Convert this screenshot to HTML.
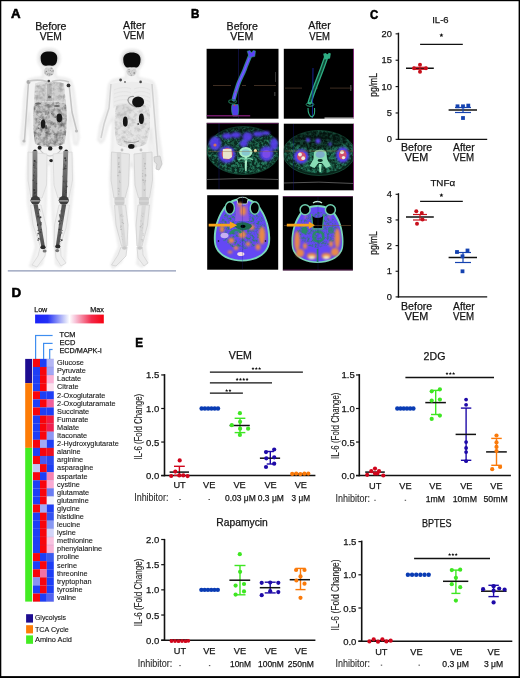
<!DOCTYPE html>
<html><head><meta charset="utf-8"><style>
html,body{margin:0;padding:0;background:#fff;}
body{width:520px;height:678px;overflow:hidden;}
svg{display:block;font-family:"Liberation Sans", sans-serif;will-change:transform;}
text{stroke:#1a1a1a;stroke-width:0.25px;}
</style></head><body>
<svg width="520" height="678" viewBox="0 0 520 678">
<rect width="520" height="678" fill="#fff"/>
<text x="11.1" y="18.2" font-size="13.4" font-weight="bold" textLength="9.6" lengthAdjust="spacingAndGlyphs" fill="#000" style="stroke:#000;stroke-width:0.55px">A</text>
<text x="190.9" y="18.0" font-size="13.4" font-weight="bold" textLength="8.4" lengthAdjust="spacingAndGlyphs" fill="#000" style="stroke:#000;stroke-width:0.55px">B</text>
<text x="369.9" y="18.6" font-size="13.4" font-weight="bold" textLength="8.2" lengthAdjust="spacingAndGlyphs" fill="#000" style="stroke:#000;stroke-width:0.55px">C</text>
<text x="11.5" y="296.7" font-size="13.4" font-weight="bold" fill="#000" style="stroke:#000;stroke-width:0.55px">D</text>
<text x="135.3" y="347.4" font-size="13.0" font-weight="bold" textLength="7.8" lengthAdjust="spacingAndGlyphs" fill="#000" style="stroke:#000;stroke-width:0.55px">E</text>
<text x="50.9" y="29.5" font-size="10.6" text-anchor="middle" fill="#111">Before</text>
<text x="50.8" y="39.5" font-size="10.6" text-anchor="middle" textLength="22.3" lengthAdjust="spacingAndGlyphs" fill="#111">VEM</text>
<text x="134.3" y="29.2" font-size="10.6" text-anchor="middle" fill="#111">After</text>
<text x="133.9" y="39.2" font-size="10.6" text-anchor="middle" textLength="21" lengthAdjust="spacingAndGlyphs" fill="#111">VEM</text>
<text x="242.2" y="29.6" font-size="10.6" text-anchor="middle" fill="#111">Before</text>
<text x="241.8" y="39.7" font-size="10.6" text-anchor="middle" textLength="23" lengthAdjust="spacingAndGlyphs" fill="#111">VEM</text>
<text x="319.5" y="29.4" font-size="10.6" text-anchor="middle" fill="#111">After</text>
<text x="319.6" y="39.5" font-size="10.6" text-anchor="middle" textLength="20.6" lengthAdjust="spacingAndGlyphs" fill="#111">VEM</text>
<defs>
<filter id="blA" color-interpolation-filters="sRGB" x="-20%" y="-20%" width="140%" height="140%"><feGaussianBlur stdDeviation="0.6"/></filter>
<filter id="blA2" color-interpolation-filters="sRGB" x="-20%" y="-20%" width="140%" height="140%"><feGaussianBlur stdDeviation="1.2"/></filter>
<filter id="nzA" color-interpolation-filters="sRGB" x="0" y="0" width="100%" height="100%">
 <feTurbulence type="fractalNoise" baseFrequency="0.22" numOctaves="3" seed="4" result="t"/>
 <feColorMatrix in="t" type="matrix" values="0 0 0 0 0.42  0 0 0 0 0.42  0 0 0 0 0.42  0 0 0 2.2 -0.85" result="g"/>
 <feComposite in="g" in2="SourceGraphic" operator="in" result="c"/>
 <feGaussianBlur in="c" stdDeviation="0.6"/>
</filter>
<filter id="nzA2" color-interpolation-filters="sRGB" x="0" y="0" width="100%" height="100%">
 <feTurbulence type="fractalNoise" baseFrequency="0.22" numOctaves="3" seed="12" result="t"/>
 <feColorMatrix in="t" type="matrix" values="0 0 0 0 0.6  0 0 0 0 0.6  0 0 0 0 0.6  0 0 0 2.0 -0.8" result="g"/>
 <feComposite in="g" in2="SourceGraphic" operator="in" result="c"/>
 <feGaussianBlur in="c" stdDeviation="0.6"/>
</filter>
<linearGradient id="femG" x1="0" y1="0" x2="0" y2="1"><stop offset="0" stop-color="#8c8c8c"/><stop offset="0.5" stop-color="#6a6a6a"/><stop offset="1" stop-color="#4a4a4a"/></linearGradient>
<linearGradient id="tibG" x1="0" y1="0" x2="0" y2="1"><stop offset="0" stop-color="#505050"/><stop offset="0.5" stop-color="#6a6a6a"/><stop offset="1" stop-color="#505050"/></linearGradient>
</defs>
<g filter="url(#blA2)">
<path fill="#f3f3f3" stroke="#e4e4e4" stroke-width="1.3" d="M49,48.5 C57,48.5 60,53 60,59 C60,64 57,67 55,69 L56,77 C62,78 67,78 70,80 C73,83 74,90 75,100 L77,118 L79,138 L77,145 L74,144 L72,128 L70,112 L69,140 L72,158 L73,185 L71,205 L69,225 L66,246 L65,262 L60,267 L56,264 L55,246 L53,220 L52,200 L51,166 L49,163 L47,166 L46,200 L45,220 L46,247 L42,264 L35,268 L30,266 L36,247 L31,222 L28,204 L27,175 L28,158 L30,140 L29,112 L27,128 L25,144 L22,145 L21,138 L23,118 L24,100 C25,90 26,83 28,80 C31,78 36,78 43,77 L43,69 C41,67 38,64 38,59 C38,53 41,48.5 49,48.5 Z"/>
</g>
<g filter="url(#blA)">
<path fill="#dedede" d="M35,83.5 C42,80.5 56,80.5 64,83.5 L66.3,108 C58,106 42,106 33.8,108 Z"/>
<path fill="#d0d0d0" d="M36.5,86 C39,84 44,84 46,86 L46,101 C42,101 38,101.5 35.5,102.5 Z"/>
<path fill="#d0d0d0" d="M53,86 C56,84 61,84 63,86 L64.5,102.5 C61,101.5 57,101 53,101 Z"/>
<path fill="#b8b8b8" d="M47,84 L51.5,84 L52,101 L46.5,101 Z"/>
<path fill="#c8c8c8" d="M34,104 C42,101 58,101 66,104 C67.5,120 66.5,134 64.5,143.5 C56,148 42,148 35,143.5 C33,132 33,118 34,104 Z"/>
</g>
<path fill="#fff" filter="url(#nzA)" d="M34,104 C42,101 58,101 66,104 C67.5,120 66.5,134 64.5,143.5 C56,148 42,148 35,143.5 C33,132 33,118 34,104 Z"/>
<path fill="#fff" filter="url(#nzA)" opacity="0.45" d="M35,83.5 C42,80.5 56,80.5 64,83.5 L66,104 C58,102 42,102 34,104 Z"/>
<g filter="url(#blA)">
<circle cx="45.4" cy="114.1" r="0.63" fill="#7a7a7a"/><circle cx="52.2" cy="139.9" r="0.41" fill="#7a7a7a"/><circle cx="48.3" cy="111.4" r="0.35" fill="#8a8a8a"/><circle cx="38.5" cy="128.2" r="0.77" fill="#666"/><circle cx="53.3" cy="141.2" r="0.59" fill="#8a8a8a"/><circle cx="51.5" cy="113.5" r="0.51" fill="#666"/><circle cx="40.1" cy="119.5" r="0.71" fill="#7a7a7a"/><circle cx="39.7" cy="128.4" r="0.39" fill="#7a7a7a"/><circle cx="51.2" cy="111.1" r="0.33" fill="#7a7a7a"/><circle cx="49.9" cy="127.1" r="0.69" fill="#8a8a8a"/><circle cx="52.2" cy="124.4" r="0.45" fill="#7a7a7a"/><circle cx="55.2" cy="117.3" r="0.59" fill="#666"/><circle cx="49.9" cy="120.7" r="0.52" fill="#666"/><circle cx="47.9" cy="134.7" r="0.38" fill="#8a8a8a"/><circle cx="48.0" cy="141.7" r="0.34" fill="#666"/><circle cx="51.9" cy="138.8" r="0.46" fill="#666"/><circle cx="46.1" cy="125.9" r="0.70" fill="#7a7a7a"/><circle cx="49.3" cy="131.6" r="0.33" fill="#666"/><circle cx="45.0" cy="128.7" r="0.64" fill="#8a8a8a"/><circle cx="44.4" cy="122.1" r="0.63" fill="#7a7a7a"/><circle cx="61.5" cy="121.1" r="0.61" fill="#8a8a8a"/><circle cx="40.4" cy="117.4" r="0.50" fill="#8a8a8a"/><circle cx="39.1" cy="124.3" r="0.57" fill="#7a7a7a"/><circle cx="58.3" cy="138.4" r="0.44" fill="#8a8a8a"/><circle cx="46.9" cy="116.8" r="0.34" fill="#7a7a7a"/><circle cx="43.0" cy="116.9" r="0.54" fill="#666"/><circle cx="41.7" cy="118.6" r="0.37" fill="#666"/><circle cx="46.6" cy="128.3" r="0.78" fill="#666"/><circle cx="54.0" cy="134.2" r="0.53" fill="#666"/><circle cx="57.7" cy="122.3" r="0.50" fill="#7a7a7a"/><circle cx="49.5" cy="122.6" r="0.40" fill="#7a7a7a"/><circle cx="48.5" cy="112.7" r="0.60" fill="#7a7a7a"/><circle cx="39.6" cy="121.4" r="0.31" fill="#7a7a7a"/><circle cx="53.0" cy="114.1" r="0.43" fill="#8a8a8a"/><circle cx="52.7" cy="125.1" r="0.36" fill="#8a8a8a"/><circle cx="62.8" cy="124.8" r="0.54" fill="#7a7a7a"/><circle cx="40.7" cy="134.5" r="0.67" fill="#8a8a8a"/><circle cx="58.6" cy="114.5" r="0.31" fill="#666"/><circle cx="46.4" cy="132.5" r="0.76" fill="#666"/><circle cx="44.8" cy="130.9" r="0.35" fill="#8a8a8a"/>
<ellipse cx="38" cy="103.5" rx="3" ry="1" fill="#666"/><ellipse cx="57" cy="106" rx="3" ry="1" fill="#666"/><ellipse cx="49.5" cy="97" rx="1.6" ry="1.3" fill="#666"/>
<ellipse cx="49" cy="71.5" rx="5" ry="5" fill="#cfcfcf"/>
<circle cx="49.2" cy="75.2" r="0.48" fill="#888"/><circle cx="49.3" cy="74.0" r="0.46" fill="#888"/><circle cx="50.0" cy="74.1" r="0.68" fill="#888"/><circle cx="51.8" cy="74.4" r="0.67" fill="#888"/><circle cx="46.3" cy="71.4" r="0.67" fill="#888"/><circle cx="51.6" cy="71.3" r="0.40" fill="#aaa"/><circle cx="53.1" cy="71.0" r="0.77" fill="#999"/><circle cx="53.1" cy="70.3" r="0.41" fill="#888"/><circle cx="48.7" cy="70.0" r="0.54" fill="#aaa"/><circle cx="52.1" cy="71.3" r="0.63" fill="#aaa"/><circle cx="45.3" cy="72.9" r="0.75" fill="#aaa"/><circle cx="51.3" cy="71.3" r="0.39" fill="#aaa"/><circle cx="47.5" cy="74.2" r="0.79" fill="#999"/><circle cx="48.7" cy="73.7" r="0.34" fill="#888"/><circle cx="46.0" cy="68.1" r="0.38" fill="#999"/><circle cx="51.8" cy="68.3" r="0.71" fill="#999"/><circle cx="50.4" cy="70.2" r="0.57" fill="#888"/><circle cx="51.0" cy="67.9" r="0.67" fill="#888"/>
<polyline fill="none" stroke="#c4c4c4" stroke-width="1.5" points="28.5,82 26.5,112 24.5,140"/>
<polyline fill="none" stroke="#c4c4c4" stroke-width="1.5" points="69,84 72,112 76.5,130"/>
<circle cx="28.5" cy="82" r="2" fill="#aaa"/><circle cx="24" cy="141" r="1.6" fill="#bbb"/><circle cx="76.5" cy="131" r="1.6" fill="#bbb"/>
<path d="M29,81 C36,79.5 42,80 47,81.5 M52,81.5 C57,80 63,79.5 69,82" fill="none" stroke="#c8c8c8" stroke-width="1.6"/>
<circle cx="68.5" cy="85.4" r="1.9" fill="#333"/>
<circle cx="48.8" cy="81" r="1.3" fill="#444"/>
<ellipse cx="43.1" cy="124" rx="2.3" ry="4.6" fill="#1a1a1a"/>
<ellipse cx="59.3" cy="118" rx="2.8" ry="4.4" fill="#1a1a1a"/>
<ellipse cx="46" cy="127" rx="0.8" ry="2" fill="#444"/>

<circle cx="39.6" cy="147.8" r="2.0" fill="#222"/>
<circle cx="50.2" cy="148.4" r="2.2" fill="#222"/>
<circle cx="60.6" cy="147.8" r="2.0" fill="#222"/>
<circle cx="35" cy="151.5" r="1.9" fill="#222"/>
<circle cx="66.2" cy="151.5" r="1.9" fill="#222"/>
<ellipse cx="51.2" cy="160.6" rx="1.9" ry="1.7" fill="#222"/>
<path fill="none" stroke="#c4c4c4" stroke-width="1.2" d="M40,150 C44,155 48,156 50,156 C53,156 57,155 61,150"/>
<path fill="#ececec" stroke="#dadada" stroke-width="0.9" d="M28,152 L47,154 L46.5,185 L42,198 L31,198 L28,180 Z"/>
<path fill="#ececec" stroke="#dadada" stroke-width="0.9" d="M53,154 L72,152 L72.5,180 L69,198 L58,198 L54,185 Z"/>
<path fill="#eeeeee" stroke="#dadada" stroke-width="0.9" d="M30.5,205 L41,205 L46.5,228 L46.5,247 L40.5,247 L33,225 Z"/>
<path fill="#eeeeee" stroke="#dadada" stroke-width="0.9" d="M59,205 L69.5,205 L66,228 L59.5,247 L54,247 L54.5,225 Z"/>
<path fill="#f0f0f0" stroke="#dadada" stroke-width="0.9" d="M40,248 L46,248 L45,256 L37,267 L32,265 L38,256 Z"/>
<path fill="#f0f0f0" stroke="#dadada" stroke-width="0.9" d="M55,248 L60.5,248 L61,256 L66,263 L61,266 L56,258 Z"/>
<path fill="url(#femG)" d="M32.6,151 L37.4,151 L37.2,197 L32.4,197 Z"/>
<path fill="url(#femG)" d="M63.4,151 L68.2,151 L66.8,197 L62,197 Z"/>
<circle cx="34.7" cy="192.9" r="0.90" fill="#555"/><circle cx="34.9" cy="188.5" r="0.60" fill="#666"/><circle cx="35.8" cy="193.9" r="0.80" fill="#666"/><circle cx="34.9" cy="192.9" r="0.87" fill="#333"/><circle cx="35.9" cy="164.0" r="0.48" fill="#333"/><circle cx="35.1" cy="171.0" r="0.71" fill="#666"/><circle cx="35.9" cy="162.2" r="0.74" fill="#555"/><circle cx="33.5" cy="176.1" r="0.42" fill="#333"/><circle cx="34.7" cy="182.5" r="0.70" fill="#555"/><circle cx="35.6" cy="176.1" r="0.72" fill="#666"/><circle cx="34.9" cy="167.9" r="0.71" fill="#444"/><circle cx="33.8" cy="175.9" r="0.65" fill="#666"/><circle cx="34.7" cy="160.9" r="0.54" fill="#333"/><circle cx="33.9" cy="170.1" r="0.47" fill="#555"/><circle cx="36.5" cy="183.7" r="0.62" fill="#444"/><circle cx="34.5" cy="177.5" r="0.99" fill="#555"/><circle cx="33.7" cy="175.3" r="0.71" fill="#444"/><circle cx="34.6" cy="172.3" r="0.46" fill="#444"/><circle cx="33.2" cy="180.2" r="0.66" fill="#333"/><circle cx="34.5" cy="178.7" r="0.58" fill="#333"/><circle cx="33.9" cy="193.1" r="0.45" fill="#444"/><circle cx="34.1" cy="163.2" r="0.65" fill="#444"/><circle cx="34.6" cy="179.5" r="0.71" fill="#666"/><circle cx="35.6" cy="161.6" r="0.43" fill="#555"/><circle cx="34.6" cy="160.9" r="0.96" fill="#333"/><circle cx="36.2" cy="176.2" r="0.60" fill="#666"/><circle cx="36.4" cy="168.7" r="0.48" fill="#555"/><circle cx="34.0" cy="165.2" r="0.96" fill="#444"/><circle cx="35.0" cy="166.2" r="0.67" fill="#555"/><circle cx="34.1" cy="190.1" r="1.00" fill="#333"/><circle cx="35.1" cy="165.6" r="0.68" fill="#666"/><circle cx="34.7" cy="177.8" r="0.90" fill="#666"/><circle cx="33.9" cy="167.2" r="0.52" fill="#555"/><circle cx="34.6" cy="171.9" r="0.43" fill="#555"/>
<circle cx="66.5" cy="175.2" r="0.43" fill="#666"/><circle cx="66.4" cy="184.8" r="0.57" fill="#555"/><circle cx="65.8" cy="159.8" r="0.51" fill="#444"/><circle cx="64.9" cy="168.5" r="0.98" fill="#444"/><circle cx="64.4" cy="172.3" r="0.40" fill="#666"/><circle cx="63.6" cy="169.2" r="0.79" fill="#555"/><circle cx="65.1" cy="158.2" r="0.56" fill="#333"/><circle cx="63.8" cy="181.5" r="0.64" fill="#444"/><circle cx="64.4" cy="167.3" r="0.75" fill="#555"/><circle cx="65.7" cy="186.6" r="0.93" fill="#666"/><circle cx="66.1" cy="186.8" r="0.70" fill="#444"/><circle cx="65.9" cy="183.7" r="0.43" fill="#666"/><circle cx="65.9" cy="190.5" r="0.48" fill="#333"/><circle cx="66.3" cy="181.4" r="0.94" fill="#555"/><circle cx="65.6" cy="196.4" r="0.63" fill="#666"/><circle cx="65.3" cy="183.1" r="0.78" fill="#555"/><circle cx="65.1" cy="158.1" r="0.88" fill="#333"/><circle cx="65.7" cy="160.6" r="0.84" fill="#444"/><circle cx="66.2" cy="191.8" r="0.54" fill="#555"/><circle cx="64.1" cy="184.0" r="0.68" fill="#666"/><circle cx="65.6" cy="165.9" r="0.76" fill="#444"/><circle cx="64.2" cy="187.7" r="0.58" fill="#555"/><circle cx="64.3" cy="184.9" r="0.82" fill="#666"/><circle cx="64.3" cy="178.7" r="0.68" fill="#666"/><circle cx="65.3" cy="170.5" r="0.45" fill="#666"/><circle cx="63.4" cy="176.4" r="0.89" fill="#666"/><circle cx="66.0" cy="168.5" r="0.62" fill="#444"/><circle cx="66.5" cy="186.1" r="0.54" fill="#666"/><circle cx="64.7" cy="164.4" r="0.97" fill="#666"/><circle cx="64.8" cy="187.1" r="0.65" fill="#666"/><circle cx="64.4" cy="191.6" r="0.40" fill="#444"/><circle cx="66.6" cy="186.5" r="0.94" fill="#444"/><circle cx="64.7" cy="192.8" r="0.45" fill="#666"/><circle cx="66.0" cy="192.2" r="0.57" fill="#333"/>
<ellipse cx="35.4" cy="200.3" rx="4.9" ry="4.4" fill="#3c3c3c"/>
<ellipse cx="63.8" cy="200.3" rx="5.1" ry="4.4" fill="#3c3c3c"/>
<rect x="31" y="200.4" width="8.8" height="1.0" fill="#c8c8c8"/>
<rect x="59.2" y="200.4" width="9.2" height="1.0" fill="#c8c8c8"/>
<path fill="url(#tibG)" d="M33.4,204.5 L37.8,204.5 L44.8,246 L41.2,246 Z"/>
<path fill="url(#tibG)" d="M61.8,204.5 L66.2,204.5 L59.2,246 L55.8,246 Z"/>
<circle cx="40.5" cy="217.3" r="0.96" fill="#333"/><circle cx="41.1" cy="222.7" r="0.59" fill="#444"/><circle cx="40.3" cy="222.4" r="0.42" fill="#555"/><circle cx="38.8" cy="238.5" r="0.73" fill="#333"/><circle cx="40.1" cy="223.2" r="0.85" fill="#555"/><circle cx="40.7" cy="224.5" r="0.95" fill="#555"/><circle cx="37.7" cy="224.0" r="0.61" fill="#444"/><circle cx="38.2" cy="233.6" r="0.79" fill="#444"/><circle cx="39.8" cy="217.8" r="0.73" fill="#444"/><circle cx="37.7" cy="230.2" r="0.45" fill="#555"/><circle cx="40.8" cy="224.9" r="0.53" fill="#444"/><circle cx="41.2" cy="223.2" r="0.48" fill="#333"/><circle cx="38.2" cy="213.3" r="0.73" fill="#444"/><circle cx="38.2" cy="216.3" r="0.74" fill="#333"/><circle cx="40.2" cy="221.9" r="0.65" fill="#555"/><circle cx="38.0" cy="216.7" r="0.85" fill="#444"/><circle cx="37.7" cy="225.1" r="0.78" fill="#333"/><circle cx="38.7" cy="230.2" r="0.66" fill="#444"/><circle cx="40.0" cy="239.2" r="0.68" fill="#555"/><circle cx="39.2" cy="209.6" r="0.96" fill="#555"/><circle cx="38.2" cy="210.9" r="0.49" fill="#555"/><circle cx="40.5" cy="232.2" r="0.91" fill="#444"/><circle cx="37.5" cy="235.0" r="0.40" fill="#333"/><circle cx="38.1" cy="240.1" r="0.79" fill="#444"/><circle cx="41.0" cy="229.6" r="0.72" fill="#444"/><circle cx="40.0" cy="211.0" r="0.44" fill="#555"/>
<circle cx="59.9" cy="235.5" r="0.40" fill="#555"/><circle cx="60.1" cy="223.6" r="0.98" fill="#555"/><circle cx="62.3" cy="215.7" r="0.72" fill="#555"/><circle cx="61.7" cy="218.1" r="0.41" fill="#444"/><circle cx="62.4" cy="230.3" r="0.45" fill="#333"/><circle cx="61.6" cy="240.3" r="0.54" fill="#333"/><circle cx="61.7" cy="232.9" r="0.62" fill="#444"/><circle cx="59.7" cy="235.7" r="0.84" fill="#555"/><circle cx="59.2" cy="224.8" r="0.52" fill="#333"/><circle cx="59.8" cy="215.0" r="0.86" fill="#444"/><circle cx="59.3" cy="229.4" r="0.77" fill="#333"/><circle cx="60.8" cy="239.8" r="0.43" fill="#555"/><circle cx="59.5" cy="221.2" r="0.53" fill="#555"/><circle cx="59.1" cy="221.2" r="0.94" fill="#444"/><circle cx="62.6" cy="218.9" r="0.51" fill="#555"/><circle cx="61.6" cy="220.6" r="0.62" fill="#444"/><circle cx="60.7" cy="210.9" r="0.45" fill="#333"/><circle cx="60.3" cy="241.4" r="0.47" fill="#333"/><circle cx="60.4" cy="234.7" r="0.59" fill="#444"/><circle cx="59.3" cy="232.4" r="0.52" fill="#555"/><circle cx="60.4" cy="239.3" r="0.42" fill="#444"/><circle cx="59.9" cy="229.5" r="0.64" fill="#444"/><circle cx="62.6" cy="216.3" r="0.85" fill="#555"/><circle cx="60.3" cy="216.8" r="0.97" fill="#555"/><circle cx="61.7" cy="240.3" r="0.58" fill="#555"/><circle cx="61.9" cy="240.0" r="0.78" fill="#333"/>
<ellipse cx="43" cy="247.2" rx="2.6" ry="2" fill="#2a2a2a"/>
<ellipse cx="57.8" cy="246.4" rx="2.6" ry="2" fill="#2a2a2a"/>
<ellipse cx="44.6" cy="251" rx="2" ry="1.6" fill="#777"/>
<ellipse cx="57.2" cy="250.6" rx="2" ry="1.6" fill="#777"/>
</g>
<g filter="url(#blA)">
<ellipse cx="49" cy="58.6" rx="10.2" ry="9.4" fill="#e2e2e2"/>
<path fill="#0a0a0a" d="M40.6,58 C40.6,53.5 44,51.6 49,51.6 C54,51.6 57.3,53.5 57.3,58 C57.3,62 56,64.5 54,65.6 C52,66 50.5,65 49,65.6 C47.5,65 46,66 44,65.6 C42,64.5 40.6,62 40.6,58 Z"/>
</g>
<g filter="url(#blA2)">
<path fill="#f3f3f3" stroke="#e4e4e4" stroke-width="1.3" d="M132,49.5 C140,49.5 143,54 143,60 C143,65 140,68 138,70 L138,78 C144,79 150,79 153,82 C156,86 157,95 157,105 L158,130 L161,150 L162,160 L160,168 L156,167 L154,158 L152,140 L151,128 L150,146 L152,162 L153,185 L151,205 L149,226 L145,246 L147,262 L142,267 L137,264 L139,246 L136,222 L135,200 L134,170 L131.5,163 L129,170 L127,200 L126,222 L127,245 L121,262 L113,268 L111,265 L119,247 L115,224 L111,204 L110,178 L111,158 L112,142 L113,118 L108,126 L104,140 L101,143 L98,140 L100,126 L106,110 L108,92 C108,85 110,81 113,80 C117,79 121,78 126,78 L126,70 C124,68 121,65 121,60 C121,54 124,49.5 132,49.5 Z"/>
</g>
<g filter="url(#blA)">
<path fill="#ececec" d="M112,84 C122,81 142,81 152,84 L151,108 C140,106 124,106 113,108 Z"/>
<path fill="#e4e4e4" d="M116,106 C124,103 142,103 149,107 C151,120 150,135 146,144 C138,149 124,149 117,144 C114,132 114,118 116,106 Z"/>
<path fill="#dadada" d="M116,106 C121,104 128,104 131,107 C131,114 128,119 122,121 C118,120 116,116 116,106 Z"/>
</g>
<path fill="#fff" filter="url(#nzA2)" opacity="0.55" d="M116,106 C124,103 142,103 149,107 C151,120 150,135 146,144 C138,149 124,149 117,144 C114,132 114,118 116,106 Z"/>
<g filter="url(#blA)">
<path fill="none" stroke="#e0e0e0" stroke-width="0.7" d="M114,90 C120,87 128,87 131,89 M134,89 C138,87 146,87 150,90"/>
<path fill="none" stroke="#e0e0e0" stroke-width="0.7" d="M114,94 C120,91 128,91 131,93 M134,93 C138,91 146,91 150,94"/>
<path fill="none" stroke="#e0e0e0" stroke-width="0.7" d="M114,98 C120,95 128,95 131,97 M134,97 C138,95 146,95 150,98"/>
<path fill="none" stroke="#e0e0e0" stroke-width="0.7" d="M114,102 C120,99 128,99 131,101 M134,101 C138,99 146,99 150,102"/>
<path fill="none" stroke="#e0e0e0" stroke-width="0.7" d="M114,106 C120,103 128,103 131,105 M134,105 C138,103 146,103 150,106"/>
<ellipse cx="131.5" cy="71.5" rx="5" ry="4.8" fill="#d2d2d2"/>
<circle cx="131.3" cy="75.3" r="0.78" fill="#aaa"/><circle cx="134.3" cy="68.4" r="0.55" fill="#999"/><circle cx="134.2" cy="73.5" r="0.71" fill="#999"/><circle cx="132.5" cy="70.1" r="0.46" fill="#aaa"/><circle cx="134.1" cy="72.3" r="0.56" fill="#aaa"/><circle cx="133.8" cy="69.4" r="0.33" fill="#999"/><circle cx="131.3" cy="71.9" r="0.38" fill="#aaa"/><circle cx="129.4" cy="68.0" r="0.35" fill="#aaa"/><circle cx="128.6" cy="68.4" r="0.53" fill="#888"/><circle cx="129.1" cy="71.8" r="0.69" fill="#999"/><circle cx="134.0" cy="69.8" r="0.44" fill="#aaa"/><circle cx="130.4" cy="73.5" r="0.40" fill="#999"/><circle cx="128.7" cy="69.3" r="0.44" fill="#888"/><circle cx="129.3" cy="69.4" r="0.56" fill="#888"/><circle cx="134.3" cy="72.8" r="0.80" fill="#999"/><circle cx="129.1" cy="71.1" r="0.49" fill="#aaa"/>
<circle cx="120.6" cy="80" r="1.4" fill="#444"/>
<circle cx="140.6" cy="81.9" r="1.3" fill="#444"/>
<circle cx="125" cy="82" r="0.9" fill="#666"/>
<polyline fill="none" stroke="#d0d0d0" stroke-width="1.5" points="111,84 109,108 104,124 101,138"/>
<polyline fill="none" stroke="#d0d0d0" stroke-width="1.5" points="152,84 154,110 156,135 158,160"/>
<path d="M154,157 L160,156 L162,164 L159,170 L156,169 L157,164 L154.5,162 Z" fill="#dadada" stroke="#c4c4c4" stroke-width="0.8"/>
<path d="M134,96.5 C129,96 127,99 128.5,102 C130,105 134,106.5 137,107.5" fill="none" stroke="#999" stroke-width="1.2"/>
<ellipse cx="138.1" cy="101.9" rx="6" ry="5.4" fill="#111"/>
<ellipse cx="125.3" cy="121.6" rx="2.4" ry="5.2" fill="#151515"/>
<ellipse cx="141.4" cy="118.8" rx="2.5" ry="5.2" fill="#151515"/>
<circle cx="138.2" cy="124" r="0.9" fill="#444"/>
<ellipse cx="131.3" cy="146.4" rx="3.2" ry="2.4" fill="#151515"/>
<path fill="none" stroke="#999" stroke-width="0.9" d="M124,141 C128,143 134,143 139,141"/>
<path fill="#e6e6e6" stroke="#d4d4d4" stroke-width="0.9" d="M111.5,152 L129.5,154 L128.5,185 L125,198 L114,198 L111,180 Z"/>
<path fill="#e6e6e6" stroke="#d4d4d4" stroke-width="0.9" d="M134,154 L152,152 L152.5,180 L149.5,198 L138.5,198 L135,185 Z"/>
<path fill="#e8e8e8" stroke="#d4d4d4" stroke-width="0.9" d="M114.5,205 L125.5,205 L128,225 L127,246 L121.5,246 L116,225 Z"/>
<path fill="#e8e8e8" stroke="#d4d4d4" stroke-width="0.9" d="M138,205 L149.5,205 L147.5,225 L142,246 L137,246 L136,225 Z"/>
<path fill="#ececec" stroke="#d6d6d6" stroke-width="0.9" d="M121,247 L127,247 L126,256 L116,266 L111.5,265 L118,255 Z"/>
<path fill="#ececec" stroke="#d6d6d6" stroke-width="0.9" d="M137,247 L142.5,247 L143,255 L148,263 L144,266 L138,258 Z"/>
<path fill="#d6d6d6" d="M116.8,152 L121.2,152 L121.6,198 L117.4,198 Z"/>
<path fill="#d6d6d6" d="M141.8,152 L146.2,152 L146,198 L141.8,198 Z"/>
<circle cx="119.6" cy="189.1" r="0.50" fill="#bbb"/><circle cx="118.9" cy="190.6" r="0.62" fill="#c4c4c4"/><circle cx="120.2" cy="182.6" r="0.40" fill="#b4b4b4"/><circle cx="119.6" cy="180.8" r="0.51" fill="#c4c4c4"/><circle cx="118.8" cy="157.8" r="0.90" fill="#bbb"/><circle cx="119.6" cy="182.1" r="0.50" fill="#bbb"/><circle cx="120.3" cy="172.4" r="0.59" fill="#b4b4b4"/><circle cx="118.7" cy="164.1" r="0.80" fill="#b4b4b4"/><circle cx="119.2" cy="172.3" r="0.80" fill="#b4b4b4"/><circle cx="119.5" cy="181.6" r="0.45" fill="#bbb"/><circle cx="119.0" cy="166.8" r="0.89" fill="#b4b4b4"/><circle cx="118.7" cy="194.1" r="0.56" fill="#b4b4b4"/><circle cx="120.5" cy="172.6" r="0.41" fill="#c4c4c4"/><circle cx="119.8" cy="171.6" r="0.60" fill="#bbb"/><circle cx="119.1" cy="162.3" r="0.46" fill="#bbb"/><circle cx="119.0" cy="191.3" r="0.63" fill="#bbb"/><circle cx="118.2" cy="188.3" r="0.60" fill="#b4b4b4"/><circle cx="119.7" cy="170.8" r="0.65" fill="#bbb"/><circle cx="118.8" cy="162.5" r="0.49" fill="#bbb"/><circle cx="118.0" cy="175.6" r="0.80" fill="#bbb"/>
<circle cx="143.4" cy="189.5" r="0.42" fill="#c4c4c4"/><circle cx="143.4" cy="180.3" r="0.72" fill="#bbb"/><circle cx="145.3" cy="180.8" r="0.81" fill="#bbb"/><circle cx="144.4" cy="190.3" r="0.71" fill="#b4b4b4"/><circle cx="145.1" cy="189.2" r="0.49" fill="#bbb"/><circle cx="142.9" cy="170.4" r="0.47" fill="#b4b4b4"/><circle cx="145.0" cy="163.7" r="0.84" fill="#b4b4b4"/><circle cx="142.8" cy="180.0" r="0.68" fill="#b4b4b4"/><circle cx="144.9" cy="182.0" r="0.55" fill="#bbb"/><circle cx="143.8" cy="182.4" r="0.62" fill="#c4c4c4"/><circle cx="145.6" cy="174.6" r="0.62" fill="#b4b4b4"/><circle cx="144.9" cy="174.3" r="0.49" fill="#c4c4c4"/><circle cx="143.7" cy="158.7" r="0.58" fill="#c4c4c4"/><circle cx="142.7" cy="173.7" r="0.66" fill="#bbb"/><circle cx="145.4" cy="168.5" r="0.76" fill="#bbb"/><circle cx="142.6" cy="176.2" r="0.59" fill="#bbb"/><circle cx="144.4" cy="183.7" r="0.45" fill="#bbb"/><circle cx="145.5" cy="175.7" r="0.88" fill="#bbb"/><circle cx="144.6" cy="184.8" r="0.51" fill="#c4c4c4"/><circle cx="144.4" cy="166.1" r="0.56" fill="#b4b4b4"/>
<rect x="114.5" y="197" width="10" height="8" rx="2" fill="#cacaca"/>
<rect x="138.9" y="197" width="10" height="8" rx="2" fill="#cacaca"/>
<rect x="114.5" y="200.6" width="10" height="0.8" fill="#e4e4e4"/><rect x="138.9" y="200.6" width="10" height="0.8" fill="#e4e4e4"/>
<path fill="#d8d8d8" d="M117.8,205 L122,205 L126,246 L122.6,246 Z"/>
<path fill="#d8d8d8" d="M141.8,205 L146,205 L141.4,246 L138,246 Z"/>
<circle cx="121.3" cy="236.4" r="0.46" fill="#c4c4c4"/><circle cx="121.1" cy="216.5" r="0.60" fill="#c4c4c4"/><circle cx="121.6" cy="214.2" r="0.56" fill="#c4c4c4"/><circle cx="122.6" cy="239.2" r="0.47" fill="#c4c4c4"/><circle cx="120.8" cy="226.1" r="0.65" fill="#c4c4c4"/><circle cx="123.5" cy="223.3" r="0.61" fill="#bbb"/><circle cx="121.2" cy="226.3" r="0.74" fill="#c4c4c4"/><circle cx="122.2" cy="220.0" r="0.71" fill="#c4c4c4"/><circle cx="121.1" cy="229.2" r="0.78" fill="#c4c4c4"/><circle cx="123.0" cy="216.1" r="0.66" fill="#c4c4c4"/><circle cx="122.7" cy="233.9" r="0.49" fill="#c4c4c4"/><circle cx="122.4" cy="222.6" r="0.61" fill="#bbb"/><circle cx="120.8" cy="215.2" r="0.66" fill="#bbb"/><circle cx="120.6" cy="227.4" r="0.52" fill="#c4c4c4"/><circle cx="122.1" cy="221.9" r="0.52" fill="#bbb"/><circle cx="121.1" cy="229.5" r="0.59" fill="#bbb"/>
<circle cx="142.7" cy="223.2" r="0.43" fill="#bbb"/><circle cx="143.2" cy="235.2" r="0.56" fill="#c4c4c4"/><circle cx="142.3" cy="227.8" r="0.64" fill="#c4c4c4"/><circle cx="141.2" cy="239.5" r="0.42" fill="#bbb"/><circle cx="141.7" cy="215.6" r="0.42" fill="#bbb"/><circle cx="140.4" cy="226.8" r="0.78" fill="#bbb"/><circle cx="141.7" cy="225.7" r="0.66" fill="#c4c4c4"/><circle cx="143.0" cy="213.3" r="0.52" fill="#c4c4c4"/><circle cx="142.7" cy="224.2" r="0.62" fill="#c4c4c4"/><circle cx="143.1" cy="233.8" r="0.59" fill="#c4c4c4"/><circle cx="141.2" cy="230.2" r="0.45" fill="#c4c4c4"/><circle cx="142.7" cy="216.6" r="0.62" fill="#c4c4c4"/><circle cx="142.6" cy="240.0" r="0.79" fill="#c4c4c4"/><circle cx="142.5" cy="241.7" r="0.49" fill="#bbb"/><circle cx="143.1" cy="214.3" r="0.46" fill="#c4c4c4"/><circle cx="141.0" cy="221.0" r="0.64" fill="#c4c4c4"/>
<ellipse cx="124.4" cy="248" rx="2.4" ry="1.8" fill="#c8c8c8"/>
<ellipse cx="139.8" cy="248" rx="2.4" ry="1.8" fill="#c8c8c8"/>
<circle cx="122" cy="150" r="1.4" fill="#c0c0c0"/><circle cx="141" cy="150" r="1.4" fill="#c0c0c0"/>
</g>
<g filter="url(#blA)">
<ellipse cx="131.8" cy="60" rx="10.5" ry="9.8" fill="#dedede"/>
<path fill="#0a0a0a" d="M123.2,59.5 C123.2,55 126.5,52.6 131.9,52.6 C137.3,52.6 140.6,55 140.6,59.5 C140.6,64 139,66.5 137,67.4 C135,67.8 133.5,67 131.9,67.5 C130.3,67 128.8,67.8 126.8,67.4 C124.8,66.5 123.2,64 123.2,59.5 Z"/>
</g>
<line x1="7.8" y1="270.8" x2="176" y2="270.8" stroke="#8e98b6" stroke-width="1.3"/>
<defs>
<filter id="blB" color-interpolation-filters="sRGB" x="-10%" y="-10%" width="120%" height="120%"><feGaussianBlur stdDeviation="0.6"/></filter>
<filter id="blB2" color-interpolation-filters="sRGB" x="-20%" y="-20%" width="140%" height="140%"><feGaussianBlur stdDeviation="1.3"/></filter>
<filter id="nzG" color-interpolation-filters="sRGB" x="0" y="0" width="100%" height="100%">
 <feTurbulence type="fractalNoise" baseFrequency="0.4" numOctaves="3" seed="5" result="t"/>
 <feColorMatrix in="t" type="matrix" values="0 0 0 0 0.16  0 0 0 0 0.50  0 0 0 0 0.38  0 0 0 2.6 -1.05" result="g"/>
 <feComposite in="g" in2="SourceGraphic" operator="in" result="c"/>
 <feGaussianBlur in="c" stdDeviation="0.5"/>
</filter>
<filter id="nzG2" color-interpolation-filters="sRGB" x="0" y="0" width="100%" height="100%">
 <feTurbulence type="fractalNoise" baseFrequency="0.3" numOctaves="3" seed="9" result="t"/>
 <feColorMatrix in="t" type="matrix" values="0 0 0 0 0.14  0 0 0 0 0.46  0 0 0 0 0.36  0 0 0 2.8 -1.1" result="g"/>
 <feComposite in="g" in2="SourceGraphic" operator="in" result="c"/>
 <feGaussianBlur in="c" stdDeviation="0.5"/>
</filter>
<filter id="nzO" color-interpolation-filters="sRGB" x="0" y="0" width="100%" height="100%">
 <feTurbulence type="fractalNoise" baseFrequency="0.3" numOctaves="2" seed="21" result="t"/>
 <feColorMatrix in="t" type="matrix" values="0 0 0 0 0.86  0 0 0 0 0.50  0 0 0 0 0.32  0 0 0 4.0 -2.0" result="g"/>
 <feComposite in="g" in2="SourceGraphic" operator="in" result="c"/>
 <feGaussianBlur in="c" stdDeviation="0.5"/>
</filter>
<clipPath id="cB1"><rect x="206.6" y="48.8" width="71.9" height="69.9"/></clipPath>
<clipPath id="cB2"><rect x="283.8" y="48.8" width="70.1" height="69.9"/></clipPath>
<clipPath id="cB3"><rect x="206.6" y="122.8" width="72.1" height="66.6"/></clipPath>
<clipPath id="cB4"><rect x="283.8" y="123.7" width="70.1" height="66.6"/></clipPath>
<clipPath id="cB5"><rect x="207.2" y="195.2" width="71" height="74.5"/></clipPath>
<clipPath id="cB6"><rect x="282.8" y="196.2" width="70.1" height="74.3"/></clipPath>
</defs>
<rect x="206.6" y="48.8" width="71.9" height="69.9" fill="#000"/>
<g clip-path="url(#cB1)">
<path d="M213,85.5 L231,85.5 M242,85.5 L246,85.5 M254,85.5 L276,85.5" stroke="#5a4230" stroke-width="0.7"/>
<line x1="238.5" y1="49" x2="238.5" y2="118" stroke="#1a1a70" stroke-width="0.5"/>
<g filter="url(#blB)">
<path d="M250.8,54 C248.5,60 246.5,64.5 244.8,69.2 S239.5,80 237.9,85.1 S234.6,95 233.7,99.5" fill="none" stroke="#2a9a70" stroke-width="4.2" stroke-linecap="round"/>
<path d="M250.8,54 C248.5,60 246.5,64.5 244.8,69.2 S239.5,80 237.9,85.1 S234.6,95 233.7,99.5" fill="none" stroke="#5a40f8" stroke-width="2.8" stroke-linecap="round"/>
<path d="M250.8,54 C248.5,60 246.5,64.5 244.8,69.2 S239.5,80 237.9,85.1 S234.6,95 233.7,99.5" fill="none" stroke="#8a90ff" stroke-width="0.8" opacity="0.7"/>
<path d="M247.2,51.2 L250,50.6 L251.5,53 L253.2,50.4 L255.5,51 L254.8,56.5 L249.2,57.5 Z" fill="#5a40f8" stroke="#2a9a70" stroke-width="0.6"/>
<ellipse cx="232.5" cy="101.5" rx="3.8" ry="1.8" fill="none" stroke="#1a6a4a" stroke-width="1.1"/>
<path d="M232,104.5 C231,108 231.5,113 233,116 L237.5,116 C239,113 239,108 238,104.5 Z" fill="#5040e8" stroke="#2a9a70" stroke-width="0.7"/>
<circle cx="234.5" cy="105.3" r="0.9" fill="#d04040"/><circle cx="236" cy="92" r="0.6" fill="#d04040"/>
</g>
<rect x="206.6" y="115.2" width="43.6" height="1.2" fill="#8a2080"/>
<rect x="275" y="72" width="1" height="10" fill="#333"/><rect x="274" y="92" width="1.5" height="4" fill="#333"/>
</g>
<rect x="283.8" y="48.8" width="70.1" height="69.9" fill="#000"/>
<g clip-path="url(#cB2)">
<path d="M285,88.1 L302,88.1 M312,88.1 L318,88.1 M330,88.1 L352,88.1" stroke="#5a4230" stroke-width="0.7"/>
<g filter="url(#blB)">
<path d="M326.6,56 C324.5,62 323.5,65 321.9,69.2 S317,82 315,87.3 S311,98 309.7,102.5" fill="none" stroke="#2fae84" stroke-width="4.4" stroke-linecap="round"/>
<path d="M326.6,56 C324.5,62 323.5,65 321.9,69.2 S317,82 315,87.3 S311,98 309.7,102.5" fill="none" stroke="#0e4a36" stroke-width="1.8"/>
<path d="M323.2,53.8 L326,53 L327,55.5 L328.8,52.8 L330.8,53.4 L330,58.5 L324.5,59.5 Z" fill="#2fae84"/>
<line x1="313" y1="68" x2="312.4" y2="118" stroke="#2030d0" stroke-width="0.7"/>
<ellipse cx="310" cy="104.5" rx="3.8" ry="1.8" fill="none" stroke="#2fae84" stroke-width="0.9"/>
<path d="M308,108 C308,112 309,116 312,117 C314,116 315,112 314.5,108" fill="none" stroke="#2fae84" stroke-width="1.1"/>
</g>
<rect x="353.1" y="48.8" width="0.9" height="69.9" fill="#9a3090"/>
<rect x="324.5" y="117.6" width="29.4" height="1.2" fill="#fff"/>
<rect x="350" y="85" width="1.5" height="6" fill="#444"/>
</g>
<rect x="206.6" y="122.8" width="72.1" height="66.6" fill="#000"/>
<g clip-path="url(#cB3)">
<ellipse cx="243.5" cy="150.5" rx="36.5" ry="24" fill="#0a2a20" filter="url(#blB)"/>
<ellipse cx="243.5" cy="150.5" rx="36" ry="23.5" fill="#fff" filter="url(#nzG)"/>
<ellipse cx="243.5" cy="150.5" rx="36.5" ry="24" fill="none" stroke="#2a8a66" stroke-width="0.9" opacity="0.45"/>
<ellipse cx="245" cy="163" rx="22" ry="9" fill="#fff" filter="url(#nzG)" opacity="0.8"/>
<ellipse cx="243" cy="133" rx="26" ry="6" fill="#000" opacity="0.35" filter="url(#blB2)"/>
<g filter="url(#blB2)" opacity="0.9">
<ellipse cx="215.2" cy="143.4" rx="6" ry="7" fill="#5a3ef2"/>
<ellipse cx="227" cy="136" rx="5" ry="3" fill="#5a3ef2"/>
<ellipse cx="236" cy="135" rx="5" ry="3" fill="#5a3ef2"/>
<ellipse cx="247.4" cy="136.8" rx="5" ry="4.5" fill="#5a3ef2"/>
<ellipse cx="243.7" cy="143.4" rx="4" ry="3.5" fill="#5a3ef2"/>
<ellipse cx="258" cy="134" rx="5" ry="2.5" fill="#5a3ef2"/>
<ellipse cx="266" cy="133" rx="4" ry="2" fill="#5a3ef2"/>
<ellipse cx="274" cy="144" rx="4" ry="6" fill="#5a3ef2"/>
<ellipse cx="226.9" cy="154.5" rx="8.6" ry="8.6" fill="#5a3ef2"/>
<ellipse cx="266.4" cy="153.8" rx="7" ry="7.5" fill="#5a3ef2"/>
</g>
<g filter="url(#blB)">
<ellipse cx="227.2" cy="153.8" rx="5.6" ry="5.8" fill="#c85070"/>
<path d="M222.8,149 L231.5,148.8 L232,157 L229,159 L223,158.6 Z" fill="#e8e4cc"/>
<ellipse cx="266.4" cy="154" rx="4" ry="4" fill="#7a4ae8"/>
<circle cx="215" cy="145" r="1.6" fill="#d07060"/>
<ellipse cx="245.8" cy="152.2" rx="6.6" ry="5.3" fill="#a8ecc8"/>
<ellipse cx="245.8" cy="152.5" rx="4.2" ry="3.2" fill="#88c8d0"/>
<path d="M244.4,157 L247.2,157 L246.6,171 L245.2,171 Z" fill="#a8ecc8"/>
<path d="M238.5,160 C241,158 244,158 245.8,160 C247.6,158 250.6,158 253,160" fill="none" stroke="#70c8a0" stroke-width="1.6"/>
<circle cx="255.4" cy="150.7" r="1.6" fill="#f0e0a0"/>
</g>
<path d="M207,179.5 Q243,177.5 278.7,179.5" fill="none" stroke="#6a6a6a" stroke-width="0.8"/>
<line x1="208" y1="151.5" x2="278" y2="151.5" stroke="#8a6038" stroke-width="0.5" opacity="0.7"/>
<line x1="219" y1="123" x2="219" y2="189" stroke="#1a1a90" stroke-width="0.5" opacity="0.7"/>
<rect x="206.6" y="122.8" width="72.1" height="0.7" fill="#9a3090"/>
</g>
<rect x="283.8" y="123.7" width="70.1" height="66.6" fill="#000"/>
<g clip-path="url(#cB4)">
<ellipse cx="319" cy="153" rx="36" ry="22.5" fill="#08241a" filter="url(#blB)"/>
<ellipse cx="319" cy="152" rx="35" ry="21.5" fill="#fff" filter="url(#nzG2)"/>
<path d="M292,145 C300,137 338,137 346,145 C350,155 346,168 330,172 C320,174 305,172 296,166 C290,160 289,152 292,145 Z" fill="#fff" filter="url(#nzG)"/>
<ellipse cx="319" cy="153" rx="36" ry="22.5" fill="none" stroke="#2a8a66" stroke-width="0.9" opacity="0.45"/>
<ellipse cx="319" cy="140" rx="28" ry="9" fill="#000" opacity="0.45" filter="url(#blB2)"/>
<g filter="url(#blB2)">
<ellipse cx="301.2" cy="156.5" rx="7.2" ry="7.2" fill="#5a3ef2"/>
<ellipse cx="342.7" cy="154.8" rx="6.6" ry="7.6" fill="#5a3ef2"/>
<circle cx="318" cy="141" r="2.5" fill="#5a3ef2"/><circle cx="308" cy="140" r="2" fill="#5a3ef2"/><circle cx="330" cy="144" r="1.6" fill="#5a3ef2"/>
</g>
<g filter="url(#blB)">
<ellipse cx="301.5" cy="156.5" rx="4.4" ry="4.6" fill="#d05070"/>
<circle cx="300" cy="154.5" r="1.9" fill="#f0ecd8"/><circle cx="303.2" cy="158.2" r="1.9" fill="#f0ecd8"/>
<ellipse cx="342.7" cy="154.8" rx="3.9" ry="4.8" fill="#d05070"/>
<circle cx="342" cy="152.2" r="1.9" fill="#f0ecd8"/><circle cx="343.5" cy="157.6" r="1.7" fill="#f0ecd8"/>
<path d="M314,153 C314,148.5 326.5,148.5 326.5,153 L327,159 L331,166 L326,168 L322,163 L318.5,163 L314.5,168 L309.5,166 L313.5,159 Z" fill="#88dcb4"/>
<ellipse cx="320.2" cy="154.5" rx="4.6" ry="3.6" fill="#7a90d8" opacity="0.6"/>
<ellipse cx="320.2" cy="160.5" rx="2.6" ry="1.4" fill="#0a3024"/>
<path d="M318.8,164 L321.6,164 L321,172 L319.4,172 Z" fill="#90e0b8"/>
</g>
<path d="M284,183 Q319,181 353.9,183.5" fill="none" stroke="#6a6a6a" stroke-width="0.8"/>
<line x1="285" y1="151" x2="353" y2="151" stroke="#8a6038" stroke-width="0.5"/>
<line x1="293.6" y1="124" x2="293.6" y2="190" stroke="#1a1a90" stroke-width="0.5" opacity="0.7"/>
<rect x="353.1" y="123.7" width="0.9" height="66.6" fill="#9a3090"/>
</g>
<rect x="207.2" y="195.2" width="71" height="74.5" fill="#000"/>
<g clip-path="url(#cB5)">
<g filter="url(#blB)">
<path d="M242,198 C252,198 258,203 262,210 C268,219 271,232 270,242 C269,254 257,261.5 242,261.5 C227,261.5 215,254 214,242 C213,232 216,219 222,210 C226,203 232,198 242,198 Z" fill="#7ad8bc"/>
<path d="M242,200.2 C251,200.2 256.6,204.5 260.5,211 C266.3,219.8 268.8,232 268.1,242 C267.3,252.6 256,259.8 242,259.8 C228,259.8 216.7,252.6 215.9,242 C215.2,232 217.7,219.8 223.5,211 C227.4,204.5 233,200.2 242,200.2 Z" fill="#6448f4"/>
</g>
<path d="M242,206 C253,206 262,214 265,224 C266,236 262,246 242,250 C222,246 218,236 219.5,224 C222.5,214 231,206 242,206 Z" fill="#fff" filter="url(#nzG)" opacity="0.9"/>
<g filter="url(#blB)">
<ellipse cx="229.8" cy="208" rx="4.6" ry="6.2" fill="#000" stroke="#70d0b0" stroke-width="1.4"/>
<ellipse cx="254.8" cy="208" rx="4.6" ry="6.2" fill="#000" stroke="#70d0b0" stroke-width="1.4"/>
<path d="M237,199.5 C238,196.5 247,196.5 248,199.5 L247,204 L238,204 Z" fill="#000" stroke="#c8f0e0" stroke-width="0.9"/>
<path d="M236.5,202 C238,208 246,208 247.5,202 L249,221 L235,221 Z" fill="#8a58e0"/>
</g>
<g filter="url(#blB2)">
<ellipse cx="243" cy="211" rx="3" ry="4.5" fill="#e8884a"/>
<ellipse cx="240" cy="204.5" rx="2" ry="2.5" fill="#e8884a"/>
<ellipse cx="262" cy="235.4" rx="3.2" ry="9" fill="#e8884a"/>
<ellipse cx="242.3" cy="234.7" rx="3.6" ry="3.4" fill="#e8884a"/>
<ellipse cx="231.3" cy="240.5" rx="2.8" ry="2.8" fill="#e8884a"/>
<ellipse cx="251.8" cy="227.3" rx="2.6" ry="2.6" fill="#e8884a"/>
<ellipse cx="222" cy="229" rx="2" ry="3.5" fill="#e8884a"/>
<ellipse cx="236" cy="248" rx="2.5" ry="2" fill="#e8884a"/>
<ellipse cx="248" cy="244" rx="2.2" ry="2.2" fill="#e8884a"/>
<ellipse cx="258" cy="247" rx="2.5" ry="3" fill="#e8884a"/>
<ellipse cx="230" cy="252" rx="2.5" ry="1.5" fill="#e8884a"/>
</g>
<g filter="url(#blB)">
<path d="M234,226 C237,221 249,221 252,226 C250,231 239,232 234,226 Z" fill="#1e6a50"/>
<ellipse cx="243" cy="226.3" rx="2.6" ry="1.6" fill="#000"/>
<path d="M230,234 C233,229 239,229 241,233" fill="none" stroke="#2a8a68" stroke-width="2.2"/>
<ellipse cx="224.5" cy="235.5" rx="4" ry="2.8" fill="#c8b0f4"/>
<ellipse cx="240.8" cy="254" rx="3.6" ry="2.1" fill="#f4dce4"/>
<circle cx="218.5" cy="241" r="0.8" fill="#000"/><circle cx="265.5" cy="241" r="0.8" fill="#000"/>
</g>
<line x1="242.5" y1="196" x2="242.5" y2="269" stroke="#1a1a90" stroke-width="0.4" opacity="0.6"/>
<path d="M208.7,223.8 L229.8,223.8 L229.8,221.5 L237.2,225.2 L229.8,228.9 L229.8,226.6 L208.7,226.6 Z" fill="#f7a21b"/>
</g>
<rect x="282.8" y="196.2" width="70.1" height="74.3" fill="#000"/>
<g clip-path="url(#cB6)">
<g filter="url(#blB)">
<path d="M317.5,205 C327,205 333,209 337,216 C342.5,225 344.5,238 343,248 C341,257 331,263 317.5,263 C304,263 294,257 292,248 C290.5,238 292.5,225 298,216 C302,209 308,205 317.5,205 Z" fill="#7ad8bc"/>
<path d="M317.5,207 C326.5,207 331.8,210.8 335.5,217.4 C340.9,226 342.9,238.3 341.5,247.7 C339.6,255.8 330,261.5 317.5,261.5 C305,261.5 295.4,255.8 293.5,247.7 C292.1,238.3 294.1,226 299.5,217.4 C303.2,210.8 308.5,207 317.5,207 Z" fill="#6448f4"/>
</g>
<path d="M317.5,212 C330,212 337,220 338,232 C336,242 330,246 317.5,248 C305,246 299,242 297,232 C298,220 305,212 317.5,212 Z" fill="#fff" filter="url(#nzG)" opacity="0.85"/>
<g filter="url(#blB)">
<circle cx="305.1" cy="209.8" r="5" fill="#000" stroke="#70d0b0" stroke-width="1.5"/>
<circle cx="330.4" cy="209.8" r="5" fill="#000" stroke="#70d0b0" stroke-width="1.5"/>
<path d="M313,203 C315.5,201 319.5,201 322,203" fill="none" stroke="#c8f0e0" stroke-width="1.3"/>
<path d="M311.5,215 C314,219 321,219 324,215 L322.5,228 L313,228 Z" fill="#000"/>
<path d="M311.5,214 L313,229 L322.5,229 L324,214" fill="none" stroke="#40a080" stroke-width="1.3"/>
<circle cx="318.3" cy="236.5" r="5" fill="none" stroke="#2a8a68" stroke-width="2.4"/>
<ellipse cx="304.4" cy="230.3" rx="3" ry="3.5" fill="#2a8a68"/>
<ellipse cx="331" cy="230.3" rx="3" ry="3.5" fill="#2a8a68" opacity="0.7"/>
<path d="M317.5,249 L317.5,262" stroke="#2a8a68" stroke-width="1.6"/>
</g>
<g filter="url(#blB2)">
<ellipse cx="297.1" cy="241" rx="2.8" ry="10" fill="#e8884a"/>
<ellipse cx="337.3" cy="238.3" rx="2.8" ry="10" fill="#e8884a"/>
<ellipse cx="300" cy="253" rx="4" ry="4" fill="#e8884a"/>
<ellipse cx="335" cy="252" rx="4" ry="4" fill="#e8884a"/>
<ellipse cx="311.7" cy="256" rx="4.8" ry="3" fill="#e8884a"/>
<ellipse cx="326.3" cy="256" rx="4.8" ry="3" fill="#e8884a"/>
<ellipse cx="305" cy="246" rx="2" ry="3" fill="#e8884a"/>
<ellipse cx="331" cy="244" rx="2" ry="3" fill="#e8884a"/>
<ellipse cx="311.7" cy="257.5" rx="3.2" ry="1.8" fill="#f8f0c0"/><ellipse cx="326.3" cy="257.5" rx="3.2" ry="1.8" fill="#f8f0c0"/>
<ellipse cx="305.5" cy="217" rx="1" ry="2" fill="#d060d0"/><ellipse cx="329.5" cy="217" rx="1" ry="2" fill="#d060d0"/>
</g>
<line x1="318" y1="197" x2="318" y2="270" stroke="#1a1a90" stroke-width="0.4" opacity="0.6"/>
<line x1="284" y1="225.5" x2="351" y2="225.5" stroke="#8a6038" stroke-width="0.5"/>
<path d="M286.8,223.8 L308.8,223.8 L308.8,221.5 L314.9,225.2 L308.8,228.9 L308.8,226.6 L286.8,226.6 Z" fill="#f7a21b"/>
<rect x="282.8" y="269.7" width="70.1" height="0.8" fill="#9a3090"/>
<rect x="282.8" y="196.2" width="70.1" height="0.6" fill="#9a3090"/>
</g>
<line x1="398.45" y1="32.699999999999996" x2="398.45" y2="140.0" stroke="#111" stroke-width="1.4"/>
<line x1="397.75" y1="139.35" x2="487.2" y2="139.35" stroke="#111" stroke-width="1.4"/>
<line x1="395.6" y1="139.35" x2="398.45" y2="139.35" stroke="#111" stroke-width="1.1"/>
<text x="391.9" y="142.25" font-size="9.3" text-anchor="end" fill="#111">0</text>
<line x1="395.6" y1="112.975" x2="398.45" y2="112.975" stroke="#111" stroke-width="1.1"/>
<text x="391.9" y="115.88" font-size="9.3" text-anchor="end" fill="#111">5</text>
<line x1="395.6" y1="86.6" x2="398.45" y2="86.6" stroke="#111" stroke-width="1.1"/>
<text x="391.9" y="89.5" font-size="9.3" text-anchor="end" fill="#111">10</text>
<line x1="395.6" y1="60.224999999999994" x2="398.45" y2="60.224999999999994" stroke="#111" stroke-width="1.1"/>
<text x="391.9" y="63.12" font-size="9.3" text-anchor="end" fill="#111">15</text>
<line x1="395.6" y1="33.849999999999994" x2="398.45" y2="33.849999999999994" stroke="#111" stroke-width="1.1"/>
<text x="391.9" y="36.75" font-size="9.3" text-anchor="end" fill="#111">20</text>
<text x="440.4" y="22.9" font-size="9.5" text-anchor="middle" fill="#111">IL-6</text>
<text x="0" y="0" font-size="11.4" text-anchor="middle" fill="#222" textLength="23.6" lengthAdjust="spacingAndGlyphs" transform="translate(377.3,84.9) rotate(-90)">pg/mL</text>
<line x1="420.1" y1="44.4" x2="462.8" y2="44.4" stroke="#111" stroke-width="1.3"/>
<polygon points="441.40,33.10 441.98,34.50 443.49,34.62 442.34,35.61 442.69,37.08 441.40,36.29 440.11,37.08 440.46,35.61 439.31,34.62 440.82,34.50" fill="#111"/>
<line x1="406" y1="68.25" x2="433.8" y2="68.25" stroke="#111" stroke-width="1.5"/>
<line x1="420" y1="67.3" x2="420" y2="69.3" stroke="#c8101c" stroke-width="1.2"/>
<line x1="413" y1="67.3" x2="427" y2="67.3" stroke="#c8101c" stroke-width="1.2"/>
<line x1="413" y1="69.3" x2="427" y2="69.3" stroke="#c8101c" stroke-width="1.2"/>
<circle cx="414" cy="68.2" r="2.0" fill="#c8101c"/>
<circle cx="420" cy="64.7" r="2.0" fill="#c8101c"/>
<circle cx="420" cy="71.8" r="2.0" fill="#c8101c"/>
<circle cx="426" cy="68.2" r="2.0" fill="#c8101c"/>
<line x1="448.6" y1="110" x2="477" y2="110" stroke="#111" stroke-width="1.5"/>
<line x1="463" y1="107.5" x2="463" y2="112.5" stroke="#1442b0" stroke-width="1.2"/>
<line x1="455" y1="107.5" x2="471" y2="107.5" stroke="#1442b0" stroke-width="1.2"/>
<line x1="455" y1="112.5" x2="471" y2="112.5" stroke="#1442b0" stroke-width="1.2"/>
<rect x="455.6" y="104.39999999999999" width="3.8" height="3.8" fill="#1442b0"/>
<rect x="461.1" y="104.39999999999999" width="3.8" height="3.8" fill="#1442b0"/>
<rect x="466.40000000000003" y="103.69999999999999" width="3.8" height="3.8" fill="#1442b0"/>
<rect x="461.1" y="116.1" width="3.8" height="3.8" fill="#1442b0"/>
<text x="416.6" y="151.4" font-size="10.3" text-anchor="middle" textLength="31.2" lengthAdjust="spacingAndGlyphs" fill="#111">Before</text>
<text x="416.5" y="161.4" font-size="10.3" text-anchor="middle" textLength="23.4" lengthAdjust="spacingAndGlyphs" fill="#111">VEM</text>
<text x="463.9" y="151.4" font-size="10.3" text-anchor="middle" textLength="21.8" lengthAdjust="spacingAndGlyphs" fill="#111">After</text>
<text x="463.5" y="161.4" font-size="10.3" text-anchor="middle" textLength="21" lengthAdjust="spacingAndGlyphs" fill="#111">VEM</text>
<line x1="398.45" y1="193.20000000000002" x2="398.45" y2="297.54999999999995" stroke="#111" stroke-width="1.4"/>
<line x1="397.75" y1="296.9" x2="487.2" y2="296.9" stroke="#111" stroke-width="1.4"/>
<line x1="395.6" y1="296.9" x2="398.45" y2="296.9" stroke="#111" stroke-width="1.1"/>
<text x="391.9" y="299.8" font-size="9.3" text-anchor="end" fill="#111">0</text>
<line x1="395.6" y1="271.25" x2="398.45" y2="271.25" stroke="#111" stroke-width="1.1"/>
<text x="391.9" y="274.15" font-size="9.3" text-anchor="end" fill="#111">1</text>
<line x1="395.6" y1="245.59999999999997" x2="398.45" y2="245.59999999999997" stroke="#111" stroke-width="1.1"/>
<text x="391.9" y="248.5" font-size="9.3" text-anchor="end" fill="#111">2</text>
<line x1="395.6" y1="219.95" x2="398.45" y2="219.95" stroke="#111" stroke-width="1.1"/>
<text x="391.9" y="222.85" font-size="9.3" text-anchor="end" fill="#111">3</text>
<line x1="395.6" y1="194.29999999999998" x2="398.45" y2="194.29999999999998" stroke="#111" stroke-width="1.1"/>
<text x="391.9" y="197.2" font-size="9.3" text-anchor="end" fill="#111">4</text>
<text x="442.75" y="186.4" font-size="9.8" text-anchor="middle" fill="#111">TNF&#945;</text>
<text x="0" y="0" font-size="11.4" text-anchor="middle" fill="#222" textLength="23.6" lengthAdjust="spacingAndGlyphs" transform="translate(377.3,243.0) rotate(-90)">pg/mL</text>
<line x1="420.1" y1="201.3" x2="462.8" y2="201.3" stroke="#111" stroke-width="1.3"/>
<polygon points="441.40,193.10 441.98,194.50 443.49,194.62 442.34,195.61 442.69,197.08 441.40,196.29 440.11,197.08 440.46,195.61 439.31,194.62 440.82,194.50" fill="#111"/>
<line x1="406" y1="217" x2="433.8" y2="217" stroke="#111" stroke-width="1.5"/>
<line x1="420" y1="214.5" x2="420" y2="220" stroke="#c8101c" stroke-width="1.2"/>
<line x1="413" y1="214.5" x2="427" y2="214.5" stroke="#c8101c" stroke-width="1.2"/>
<line x1="413" y1="220" x2="427" y2="220" stroke="#c8101c" stroke-width="1.2"/>
<circle cx="416.3" cy="211.3" r="2.0" fill="#c8101c"/>
<circle cx="421.8" cy="213" r="2.0" fill="#c8101c"/>
<circle cx="417" cy="223.8" r="2.0" fill="#c8101c"/>
<circle cx="422.5" cy="219.5" r="2.0" fill="#c8101c"/>
<line x1="448.6" y1="257.5" x2="477" y2="257.5" stroke="#111" stroke-width="1.5"/>
<line x1="463" y1="252.5" x2="463" y2="262.5" stroke="#1442b0" stroke-width="1.2"/>
<line x1="455" y1="252.5" x2="471" y2="252.5" stroke="#1442b0" stroke-width="1.2"/>
<line x1="455" y1="262.5" x2="471" y2="262.5" stroke="#1442b0" stroke-width="1.2"/>
<rect x="455.1" y="250.1" width="3.8" height="3.8" fill="#1442b0"/>
<rect x="465.6" y="248.6" width="3.8" height="3.8" fill="#1442b0"/>
<rect x="460.6" y="254.4" width="3.8" height="3.8" fill="#1442b0"/>
<rect x="460.6" y="269.40000000000003" width="3.8" height="3.8" fill="#1442b0"/>
<text x="416.6" y="309.8" font-size="10.3" text-anchor="middle" textLength="31.2" lengthAdjust="spacingAndGlyphs" fill="#111">Before</text>
<text x="416.5" y="319.8" font-size="10.3" text-anchor="middle" textLength="23.4" lengthAdjust="spacingAndGlyphs" fill="#111">VEM</text>
<text x="463.9" y="309.8" font-size="10.3" text-anchor="middle" textLength="21.8" lengthAdjust="spacingAndGlyphs" fill="#111">After</text>
<text x="463.5" y="319.8" font-size="10.3" text-anchor="middle" textLength="21" lengthAdjust="spacingAndGlyphs" fill="#111">VEM</text>
<defs><linearGradient id="lowmax" x1="0" x2="1" y1="0" y2="0">
<stop offset="0" stop-color="#1a22f8"/><stop offset="0.18" stop-color="#2230f6"/>
<stop offset="0.42" stop-color="#c8ccf8"/><stop offset="0.5" stop-color="#ffffff"/>
<stop offset="0.58" stop-color="#f8c8dc"/><stop offset="0.82" stop-color="#f22a4a"/>
<stop offset="1" stop-color="#f80010"/></linearGradient></defs>
<rect x="35.1" y="314.6" width="68.7" height="8.8" fill="url(#lowmax)"/>
<text x="34.2" y="312.4" font-size="7.4" textLength="13" lengthAdjust="spacingAndGlyphs" fill="#111">Low</text>
<text x="103.8" y="312.4" font-size="7.4" text-anchor="end" textLength="13.6" lengthAdjust="spacingAndGlyphs" fill="#111">Max</text>
<line x1="35.6" y1="335.5" x2="35.6" y2="359" stroke="#3f8ef0" stroke-width="1.2"/>
<line x1="35.0" y1="335.5" x2="52.6" y2="335.5" stroke="#3f8ef0" stroke-width="1.2"/>
<line x1="43.6" y1="343.4" x2="43.6" y2="359" stroke="#3f8ef0" stroke-width="1.2"/>
<line x1="43.0" y1="343.4" x2="52.6" y2="343.4" stroke="#3f8ef0" stroke-width="1.2"/>
<line x1="49.7" y1="349.5" x2="49.7" y2="359" stroke="#3f8ef0" stroke-width="1.2"/>
<line x1="49.1" y1="349.5" x2="52.6" y2="349.5" stroke="#3f8ef0" stroke-width="1.2"/>
<text x="59.5" y="337.2" font-size="7.8" textLength="16" lengthAdjust="spacingAndGlyphs" fill="#111">TCM</text>
<text x="59.5" y="345.3" font-size="7.8" textLength="15.8" lengthAdjust="spacingAndGlyphs" fill="#111">ECD</text>
<text x="59.5" y="353.4" font-size="7.8" textLength="42" lengthAdjust="spacingAndGlyphs" fill="#111">ECD/MAPK-i</text>
<rect x="33.0" y="358.9" width="7.0" height="8.14" fill="#f8040c"/>
<rect x="40.0" y="358.9" width="6.8" height="8.14" fill="#1e3ef6"/>
<rect x="46.8" y="358.9" width="7.0" height="8.14" fill="#b4b6f4"/>
<text x="57.1" y="365.3" font-size="7.3" fill="#151515" style="stroke-width:0.1px">Glucose</text>
<rect x="33.0" y="366.99" width="7.0" height="8.14" fill="#1e3ef6"/>
<rect x="40.0" y="366.99" width="6.8" height="8.14" fill="#f8040c"/>
<rect x="46.8" y="366.99" width="7.0" height="8.14" fill="#a2a6f4"/>
<text x="57.1" y="373.39" font-size="7.3" fill="#151515" style="stroke-width:0.1px">Pyruvate</text>
<rect x="33.0" y="375.08" width="7.0" height="8.14" fill="#1e3ef6"/>
<rect x="40.0" y="375.08" width="6.8" height="8.14" fill="#f8040c"/>
<rect x="46.8" y="375.08" width="7.0" height="8.14" fill="#fbb2d6"/>
<text x="57.1" y="381.48" font-size="7.3" fill="#151515" style="stroke-width:0.1px">Lactate</text>
<rect x="33.0" y="383.17" width="7.0" height="8.14" fill="#1e3ef6"/>
<rect x="40.0" y="383.17" width="6.8" height="8.14" fill="#f8040c"/>
<rect x="46.8" y="383.17" width="7.0" height="8.14" fill="#fde0ee"/>
<text x="57.1" y="388.77" font-size="7.3" fill="#151515" style="stroke-width:0.1px">Citrate</text>
<rect x="33.0" y="391.26" width="7.0" height="8.14" fill="#f8040c"/>
<rect x="40.0" y="391.26" width="6.8" height="8.14" fill="#1e3ef6"/>
<rect x="46.8" y="391.26" width="7.0" height="8.14" fill="#1e3ef6"/>
<text x="57.1" y="397.66" font-size="7.3" fill="#151515" style="stroke-width:0.1px">2-Oxoglutarate</text>
<rect x="33.0" y="399.35" width="7.0" height="8.14" fill="#1e3ef6"/>
<rect x="40.0" y="399.35" width="6.8" height="8.14" fill="#f8040c"/>
<rect x="46.8" y="399.35" width="7.0" height="8.14" fill="#f2609a"/>
<text x="57.1" y="405.75" font-size="7.3" fill="#151515" style="stroke-width:0.1px">2-Oxoglutaramate</text>
<rect x="33.0" y="407.44" width="7.0" height="8.14" fill="#f8040c"/>
<rect x="40.0" y="407.44" width="6.8" height="8.14" fill="#1e3ef6"/>
<rect x="46.8" y="407.44" width="7.0" height="8.14" fill="#1e3ef6"/>
<text x="57.1" y="413.84" font-size="7.3" fill="#151515" style="stroke-width:0.1px">Succinate</text>
<rect x="33.0" y="415.53" width="7.0" height="8.14" fill="#1e3ef6"/>
<rect x="40.0" y="415.53" width="6.8" height="8.14" fill="#f8040c"/>
<rect x="46.8" y="415.53" width="7.0" height="8.14" fill="#f21c42"/>
<text x="57.1" y="421.93" font-size="7.3" fill="#151515" style="stroke-width:0.1px">Fumarate</text>
<rect x="33.0" y="423.62" width="7.0" height="8.14" fill="#1e3ef6"/>
<rect x="40.0" y="423.62" width="6.8" height="8.14" fill="#f8040c"/>
<rect x="46.8" y="423.62" width="7.0" height="8.14" fill="#f02050"/>
<text x="57.1" y="430.02" font-size="7.3" fill="#151515" style="stroke-width:0.1px">Malate</text>
<rect x="33.0" y="431.71" width="7.0" height="8.14" fill="#1e3ef6"/>
<rect x="40.0" y="431.71" width="6.8" height="8.14" fill="#f8040c"/>
<rect x="46.8" y="431.71" width="7.0" height="8.14" fill="#8e96f2"/>
<text x="57.1" y="438.11" font-size="7.3" fill="#151515" style="stroke-width:0.1px">Itaconate</text>
<rect x="33.0" y="439.8" width="7.0" height="8.14" fill="#f8040c"/>
<rect x="40.0" y="439.8" width="6.8" height="8.14" fill="#a2aaf6"/>
<rect x="46.8" y="439.8" width="7.0" height="8.14" fill="#1e3ef6"/>
<text x="57.1" y="446.2" font-size="7.3" fill="#151515" style="stroke-width:0.1px">2-Hydroxyglutarate</text>
<rect x="33.0" y="447.89" width="7.0" height="8.14" fill="#1e3ef6"/>
<rect x="40.0" y="447.89" width="6.8" height="8.14" fill="#f8040c"/>
<rect x="46.8" y="447.89" width="7.0" height="8.14" fill="#ec1020"/>
<text x="57.1" y="454.29" font-size="7.3" fill="#151515" style="stroke-width:0.1px">alanine</text>
<rect x="33.0" y="455.98" width="7.0" height="8.14" fill="#f8040c"/>
<rect x="40.0" y="455.98" width="6.8" height="8.14" fill="#4858f0"/>
<rect x="46.8" y="455.98" width="7.0" height="8.14" fill="#2a48f0"/>
<text x="57.1" y="462.38" font-size="7.3" fill="#151515" style="stroke-width:0.1px">arginine</text>
<rect x="33.0" y="464.07" width="7.0" height="8.14" fill="#c4c6f4"/>
<rect x="40.0" y="464.07" width="6.8" height="8.14" fill="#f8040c"/>
<rect x="46.8" y="464.07" width="7.0" height="8.14" fill="#1e3ef6"/>
<text x="57.1" y="470.47" font-size="7.3" fill="#151515" style="stroke-width:0.1px">asparagine</text>
<rect x="33.0" y="472.16" width="7.0" height="8.14" fill="#f8040c"/>
<rect x="40.0" y="472.16" width="6.8" height="8.14" fill="#1e3ef6"/>
<rect x="46.8" y="472.16" width="7.0" height="8.14" fill="#f682b2"/>
<text x="57.1" y="478.56" font-size="7.3" fill="#151515" style="stroke-width:0.1px">aspartate</text>
<rect x="33.0" y="480.25" width="7.0" height="8.14" fill="#1e3ef6"/>
<rect x="40.0" y="480.25" width="6.8" height="8.14" fill="#f8040c"/>
<rect x="46.8" y="480.25" width="7.0" height="8.14" fill="#f9aad2"/>
<text x="57.1" y="486.65" font-size="7.3" fill="#151515" style="stroke-width:0.1px">cystine</text>
<rect x="33.0" y="488.34" width="7.0" height="8.14" fill="#1e3ef6"/>
<rect x="40.0" y="488.34" width="6.8" height="8.14" fill="#f8040c"/>
<rect x="46.8" y="488.34" width="7.0" height="8.14" fill="#6a7cf2"/>
<text x="57.1" y="494.74" font-size="7.3" fill="#151515" style="stroke-width:0.1px">glutamate</text>
<rect x="33.0" y="496.43" width="7.0" height="8.14" fill="#1e3ef6"/>
<rect x="40.0" y="496.43" width="6.8" height="8.14" fill="#f8040c"/>
<rect x="46.8" y="496.43" width="7.0" height="8.14" fill="#f0f0fc"/>
<text x="57.1" y="502.83" font-size="7.3" fill="#151515" style="stroke-width:0.1px">glutamine</text>
<rect x="33.0" y="504.52" width="7.0" height="8.14" fill="#f8040c"/>
<rect x="40.0" y="504.52" width="6.8" height="8.14" fill="#a2aaf6"/>
<rect x="46.8" y="504.52" width="7.0" height="8.14" fill="#1e3ef6"/>
<text x="57.1" y="510.92" font-size="7.3" fill="#151515" style="stroke-width:0.1px">glycine</text>
<rect x="33.0" y="512.61" width="7.0" height="8.14" fill="#1e3ef6"/>
<rect x="40.0" y="512.61" width="6.8" height="8.14" fill="#f8040c"/>
<rect x="46.8" y="512.61" width="7.0" height="8.14" fill="#3452f0"/>
<text x="57.1" y="519.01" font-size="7.3" fill="#151515" style="stroke-width:0.1px">histidine</text>
<rect x="33.0" y="520.7" width="7.0" height="8.14" fill="#1e3ef6"/>
<rect x="40.0" y="520.7" width="6.8" height="8.14" fill="#f8040c"/>
<rect x="46.8" y="520.7" width="7.0" height="8.14" fill="#8898f2"/>
<text x="57.1" y="527.1" font-size="7.3" fill="#151515" style="stroke-width:0.1px">leucine</text>
<rect x="33.0" y="528.79" width="7.0" height="8.14" fill="#1e3ef6"/>
<rect x="40.0" y="528.79" width="6.8" height="8.14" fill="#f8040c"/>
<rect x="46.8" y="528.79" width="7.0" height="8.14" fill="#d2d4f8"/>
<text x="57.1" y="535.19" font-size="7.3" fill="#151515" style="stroke-width:0.1px">lysine</text>
<rect x="33.0" y="536.88" width="7.0" height="8.14" fill="#1e3ef6"/>
<rect x="40.0" y="536.88" width="6.8" height="8.14" fill="#f8040c"/>
<rect x="46.8" y="536.88" width="7.0" height="8.14" fill="#f9c2e0"/>
<text x="57.1" y="543.28" font-size="7.3" fill="#151515" style="stroke-width:0.1px">methionine</text>
<rect x="33.0" y="544.97" width="7.0" height="8.14" fill="#1e3ef6"/>
<rect x="40.0" y="544.97" width="6.8" height="8.14" fill="#f8040c"/>
<rect x="46.8" y="544.97" width="7.0" height="8.14" fill="#f8b4d8"/>
<text x="57.1" y="551.37" font-size="7.3" fill="#151515" style="stroke-width:0.1px">phenylalanine</text>
<rect x="33.0" y="553.06" width="7.0" height="8.14" fill="#f8040c"/>
<rect x="40.0" y="553.06" width="6.8" height="8.14" fill="#1e3ef6"/>
<rect x="46.8" y="553.06" width="7.0" height="8.14" fill="#3a5af0"/>
<text x="57.1" y="559.46" font-size="7.3" fill="#151515" style="stroke-width:0.1px">proline</text>
<rect x="33.0" y="561.15" width="7.0" height="8.14" fill="#1e3ef6"/>
<rect x="40.0" y="561.15" width="6.8" height="8.14" fill="#f8040c"/>
<rect x="46.8" y="561.15" width="7.0" height="8.14" fill="#1e3ef6"/>
<text x="57.1" y="567.55" font-size="7.3" fill="#151515" style="stroke-width:0.1px">serine</text>
<rect x="33.0" y="569.24" width="7.0" height="8.14" fill="#f8040c"/>
<rect x="40.0" y="569.24" width="6.8" height="8.14" fill="#f272a2"/>
<rect x="46.8" y="569.24" width="7.0" height="8.14" fill="#1e3ef6"/>
<text x="57.1" y="575.64" font-size="7.3" fill="#151515" style="stroke-width:0.1px">threonine</text>
<rect x="33.0" y="577.33" width="7.0" height="8.14" fill="#8a92f2"/>
<rect x="40.0" y="577.33" width="6.8" height="8.14" fill="#f8040c"/>
<rect x="46.8" y="577.33" width="7.0" height="8.14" fill="#1e3ef6"/>
<text x="57.1" y="583.73" font-size="7.3" fill="#151515" style="stroke-width:0.1px">tryptophan</text>
<rect x="33.0" y="585.42" width="7.0" height="8.14" fill="#1e3ef6"/>
<rect x="40.0" y="585.42" width="6.8" height="8.14" fill="#f8040c"/>
<rect x="46.8" y="585.42" width="7.0" height="8.14" fill="#1e3ef6"/>
<text x="57.1" y="591.82" font-size="7.3" fill="#151515" style="stroke-width:0.1px">tyrosine</text>
<rect x="33.0" y="593.51" width="7.0" height="8.14" fill="#f8040c"/>
<rect x="40.0" y="593.51" width="6.8" height="8.14" fill="#1e3ef6"/>
<rect x="46.8" y="593.51" width="7.0" height="8.14" fill="#5262f0"/>
<text x="57.1" y="599.91" font-size="7.3" fill="#151515" style="stroke-width:0.1px">valine</text>
<line x1="33" y1="358.9" x2="53.8" y2="358.9" stroke="#6060a0" stroke-width="0.25" opacity="0.5"/>
<line x1="33" y1="366.99" x2="53.8" y2="366.99" stroke="#6060a0" stroke-width="0.25" opacity="0.5"/>
<line x1="33" y1="375.08" x2="53.8" y2="375.08" stroke="#6060a0" stroke-width="0.25" opacity="0.5"/>
<line x1="33" y1="383.17" x2="53.8" y2="383.17" stroke="#6060a0" stroke-width="0.25" opacity="0.5"/>
<line x1="33" y1="391.26" x2="53.8" y2="391.26" stroke="#6060a0" stroke-width="0.25" opacity="0.5"/>
<line x1="33" y1="399.35" x2="53.8" y2="399.35" stroke="#6060a0" stroke-width="0.25" opacity="0.5"/>
<line x1="33" y1="407.44" x2="53.8" y2="407.44" stroke="#6060a0" stroke-width="0.25" opacity="0.5"/>
<line x1="33" y1="415.53" x2="53.8" y2="415.53" stroke="#6060a0" stroke-width="0.25" opacity="0.5"/>
<line x1="33" y1="423.62" x2="53.8" y2="423.62" stroke="#6060a0" stroke-width="0.25" opacity="0.5"/>
<line x1="33" y1="431.71" x2="53.8" y2="431.71" stroke="#6060a0" stroke-width="0.25" opacity="0.5"/>
<line x1="33" y1="439.8" x2="53.8" y2="439.8" stroke="#6060a0" stroke-width="0.25" opacity="0.5"/>
<line x1="33" y1="447.89" x2="53.8" y2="447.89" stroke="#6060a0" stroke-width="0.25" opacity="0.5"/>
<line x1="33" y1="455.98" x2="53.8" y2="455.98" stroke="#6060a0" stroke-width="0.25" opacity="0.5"/>
<line x1="33" y1="464.07" x2="53.8" y2="464.07" stroke="#6060a0" stroke-width="0.25" opacity="0.5"/>
<line x1="33" y1="472.16" x2="53.8" y2="472.16" stroke="#6060a0" stroke-width="0.25" opacity="0.5"/>
<line x1="33" y1="480.25" x2="53.8" y2="480.25" stroke="#6060a0" stroke-width="0.25" opacity="0.5"/>
<line x1="33" y1="488.34" x2="53.8" y2="488.34" stroke="#6060a0" stroke-width="0.25" opacity="0.5"/>
<line x1="33" y1="496.43" x2="53.8" y2="496.43" stroke="#6060a0" stroke-width="0.25" opacity="0.5"/>
<line x1="33" y1="504.52" x2="53.8" y2="504.52" stroke="#6060a0" stroke-width="0.25" opacity="0.5"/>
<line x1="33" y1="512.61" x2="53.8" y2="512.61" stroke="#6060a0" stroke-width="0.25" opacity="0.5"/>
<line x1="33" y1="520.7" x2="53.8" y2="520.7" stroke="#6060a0" stroke-width="0.25" opacity="0.5"/>
<line x1="33" y1="528.79" x2="53.8" y2="528.79" stroke="#6060a0" stroke-width="0.25" opacity="0.5"/>
<line x1="33" y1="536.88" x2="53.8" y2="536.88" stroke="#6060a0" stroke-width="0.25" opacity="0.5"/>
<line x1="33" y1="544.97" x2="53.8" y2="544.97" stroke="#6060a0" stroke-width="0.25" opacity="0.5"/>
<line x1="33" y1="553.06" x2="53.8" y2="553.06" stroke="#6060a0" stroke-width="0.25" opacity="0.5"/>
<line x1="33" y1="561.15" x2="53.8" y2="561.15" stroke="#6060a0" stroke-width="0.25" opacity="0.5"/>
<line x1="33" y1="569.24" x2="53.8" y2="569.24" stroke="#6060a0" stroke-width="0.25" opacity="0.5"/>
<line x1="33" y1="577.33" x2="53.8" y2="577.33" stroke="#6060a0" stroke-width="0.25" opacity="0.5"/>
<line x1="33" y1="585.42" x2="53.8" y2="585.42" stroke="#6060a0" stroke-width="0.25" opacity="0.5"/>
<line x1="33" y1="593.51" x2="53.8" y2="593.51" stroke="#6060a0" stroke-width="0.25" opacity="0.5"/>
<line x1="33" y1="601.6" x2="53.8" y2="601.6" stroke="#6060a0" stroke-width="0.25" opacity="0.5"/>
<rect x="25.2" y="358.9" width="7.0" height="24.27" fill="#1d0c90"/>
<rect x="25.2" y="383.16999999999996" width="7.0" height="64.72" fill="#fd7c06"/>
<rect x="25.2" y="447.89" width="7.0" height="153.71" fill="#43ec22"/>
<rect x="26.1" y="614.2" width="6.9" height="8.4" fill="#1d0c90"/>
<text x="35" y="620.3" font-size="8" textLength="31" lengthAdjust="spacingAndGlyphs" fill="#111" style="stroke-width:0.12px">Glycolysis</text>
<rect x="26.1" y="625.2" width="6.9" height="8.2" fill="#fd7c06"/>
<text x="35" y="631.6" font-size="8" textLength="33.8" lengthAdjust="spacingAndGlyphs" fill="#111" style="stroke-width:0.12px">TCA Cycle</text>
<rect x="26.1" y="635.4" width="6.9" height="8.4" fill="#43ec22"/>
<text x="35" y="642.2" font-size="8" textLength="36.9" lengthAdjust="spacingAndGlyphs" fill="#111" style="stroke-width:0.12px">Amino Acid</text>
<line x1="164.5" y1="374.09999999999997" x2="164.5" y2="476.35" stroke="#111" stroke-width="1.6"/>
<line x1="161.2" y1="475.6" x2="315.4" y2="475.6" stroke="#111" stroke-width="1.5"/>
<line x1="161.2" y1="475.6" x2="164.5" y2="475.6" stroke="#111" stroke-width="1.2"/>
<text x="159.2" y="479.1" font-size="9.5" text-anchor="end" fill="#111">0.0</text>
<line x1="161.2" y1="442.05" x2="164.5" y2="442.05" stroke="#111" stroke-width="1.2"/>
<text x="159.2" y="445.55" font-size="9.5" text-anchor="end" fill="#111">0.5</text>
<line x1="161.2" y1="408.5" x2="164.5" y2="408.5" stroke="#111" stroke-width="1.2"/>
<text x="159.2" y="412.0" font-size="9.5" text-anchor="end" fill="#111">1.0</text>
<line x1="161.2" y1="374.95000000000005" x2="164.5" y2="374.95000000000005" stroke="#111" stroke-width="1.2"/>
<text x="159.2" y="378.45" font-size="9.5" text-anchor="end" fill="#111">1.5</text>
<text x="240.3" y="359.3" font-size="10.6" text-anchor="middle" fill="#111">VEM</text>
<text x="0" y="0" font-size="10.2" text-anchor="middle" fill="#222" style="stroke-width:0.1px" textLength="66.0" lengthAdjust="spacingAndGlyphs" transform="translate(142.4,426.8) rotate(-90)">IL-6 (Fold Change)</text>
<line x1="179.4" y1="466.3" x2="179.4" y2="475.4" stroke="#d0061c" stroke-width="1.4"/>
<line x1="174.0" y1="466.3" x2="184.8" y2="466.3" stroke="#d0061c" stroke-width="1.4"/>
<line x1="174.0" y1="475.4" x2="184.8" y2="475.4" stroke="#d0061c" stroke-width="1.4"/>
<line x1="169.6" y1="472.1" x2="189" y2="472.1" stroke="#111" stroke-width="1.5"/>
<circle cx="179.7" cy="460.4" r="2.1" fill="#d0061c"/>
<circle cx="175.3" cy="471.6" r="2.1" fill="#d0061c"/>
<circle cx="171.2" cy="476" r="2.1" fill="#d0061c"/>
<circle cx="179.3" cy="475.4" r="2.1" fill="#d0061c"/>
<circle cx="183.3" cy="475.4" r="2.1" fill="#d0061c"/>
<circle cx="187.6" cy="476.1" r="2.1" fill="#d0061c"/>
<circle cx="201.6" cy="408.5" r="2.2" fill="#0a3cb4"/>
<circle cx="204.88" cy="408.5" r="2.2" fill="#0a3cb4"/>
<circle cx="208.16" cy="408.5" r="2.2" fill="#0a3cb4"/>
<circle cx="211.44" cy="408.5" r="2.2" fill="#0a3cb4"/>
<circle cx="214.72" cy="408.5" r="2.2" fill="#0a3cb4"/>
<circle cx="218.0" cy="408.5" r="2.2" fill="#0a3cb4"/>
<line x1="240" y1="418.3" x2="240" y2="432.6" stroke="#3ee622" stroke-width="1.4"/>
<line x1="234.65" y1="418.3" x2="245.35" y2="418.3" stroke="#3ee622" stroke-width="1.4"/>
<line x1="234.65" y1="432.6" x2="245.35" y2="432.6" stroke="#3ee622" stroke-width="1.4"/>
<line x1="229.6" y1="425.5" x2="249.8" y2="425.5" stroke="#111" stroke-width="1.5"/>
<circle cx="239.9" cy="413.2" r="2.1" fill="#3ee622"/>
<circle cx="240.1" cy="421.8" r="2.1" fill="#3ee622"/>
<circle cx="231.8" cy="425.2" r="2.1" fill="#3ee622"/>
<circle cx="240.1" cy="428.7" r="2.1" fill="#3ee622"/>
<circle cx="248.1" cy="428.7" r="2.1" fill="#3ee622"/>
<circle cx="239.9" cy="434.9" r="2.1" fill="#3ee622"/>
<line x1="270.3" y1="451.5" x2="270.3" y2="464.0" stroke="#1e0aa8" stroke-width="1.4"/>
<line x1="266.7" y1="451.5" x2="273.90000000000003" y2="451.5" stroke="#1e0aa8" stroke-width="1.4"/>
<line x1="266.7" y1="464.0" x2="273.90000000000003" y2="464.0" stroke="#1e0aa8" stroke-width="1.4"/>
<line x1="259.9" y1="458.2" x2="280.1" y2="458.2" stroke="#111" stroke-width="1.5"/>
<circle cx="274.2" cy="449.5" r="2.1" fill="#1e0aa8"/>
<circle cx="266" cy="452.1" r="2.1" fill="#1e0aa8"/>
<circle cx="266.3" cy="458.3" r="2.1" fill="#1e0aa8"/>
<circle cx="274.2" cy="457.3" r="2.1" fill="#1e0aa8"/>
<circle cx="274.2" cy="463.7" r="2.1" fill="#1e0aa8"/>
<circle cx="266" cy="467" r="2.1" fill="#1e0aa8"/>
<line x1="291" y1="474.0" x2="310" y2="474.0" stroke="#111" stroke-width="1.5"/>
<circle cx="292.2" cy="473.9" r="2.1" fill="#fa7a0a"/>
<circle cx="296.2" cy="473.6" r="2.1" fill="#fa7a0a"/>
<circle cx="300.3" cy="474.1" r="2.1" fill="#fa7a0a"/>
<circle cx="304.4" cy="473.7" r="2.1" fill="#fa7a0a"/>
<circle cx="308.3" cy="473.6" r="2.1" fill="#fa7a0a"/>
<text x="179.6" y="488.3" font-size="9.9" text-anchor="middle" textLength="12.3" lengthAdjust="spacingAndGlyphs" fill="#111">UT</text>
<text x="209.2" y="488.3" font-size="9.9" text-anchor="middle" textLength="12.3" lengthAdjust="spacingAndGlyphs" fill="#111">VE</text>
<text x="239.6" y="488.3" font-size="9.9" text-anchor="middle" textLength="12.3" lengthAdjust="spacingAndGlyphs" fill="#111">VE</text>
<text x="270.6" y="488.3" font-size="9.9" text-anchor="middle" textLength="12.3" lengthAdjust="spacingAndGlyphs" fill="#111">VE</text>
<text x="300.8" y="488.3" font-size="9.9" text-anchor="middle" textLength="12.3" lengthAdjust="spacingAndGlyphs" fill="#111">VE</text>
<text x="134.2" y="501.2" font-size="10.0" textLength="34.3" lengthAdjust="spacingAndGlyphs" fill="#2a2a2a" style="stroke-width:0.08px">Inhibitor:</text>
<rect x="179.3" y="499.0" width="1.4" height="0.9" fill="#333"/>
<rect x="208.5" y="499.0" width="1.4" height="0.9" fill="#333"/>
<text x="240.4" y="501.2" font-size="8.9" text-anchor="middle" textLength="30.8" lengthAdjust="spacingAndGlyphs" fill="#111">0.03 &#956;M</text>
<text x="270.8" y="501.2" font-size="8.9" text-anchor="middle" textLength="26" lengthAdjust="spacingAndGlyphs" fill="#111">0.3 &#956;M</text>
<text x="300.8" y="501.2" font-size="8.9" text-anchor="middle" textLength="18.5" lengthAdjust="spacingAndGlyphs" fill="#111">3 &#956;M</text>
<line x1="209.9" y1="372.2" x2="302.9" y2="372.2" stroke="#111" stroke-width="1.3"/>
<polygon points="253.00,366.95 253.44,368.00 254.57,368.09 253.71,368.83 253.97,369.93 253.00,369.34 252.03,369.93 252.29,368.83 251.43,368.09 252.56,368.00" fill="#111"/>
<polygon points="256.30,366.95 256.74,368.00 257.87,368.09 257.01,368.83 257.27,369.93 256.30,369.34 255.33,369.93 255.59,368.83 254.73,368.09 255.86,368.00" fill="#111"/>
<polygon points="259.60,366.95 260.04,368.00 261.17,368.09 260.31,368.83 260.57,369.93 259.60,369.34 258.63,369.93 258.89,368.83 258.03,368.09 259.16,368.00" fill="#111"/>
<line x1="209.9" y1="382.8" x2="272.0" y2="382.8" stroke="#111" stroke-width="1.3"/>
<polygon points="237.15,377.75 237.59,378.80 238.72,378.89 237.86,379.63 238.12,380.73 237.15,380.14 236.18,380.73 236.44,379.63 235.58,378.89 236.71,378.80" fill="#111"/>
<polygon points="240.45,377.75 240.89,378.80 242.02,378.89 241.16,379.63 241.42,380.73 240.45,380.14 239.48,380.73 239.74,379.63 238.88,378.89 240.01,378.80" fill="#111"/>
<polygon points="243.75,377.75 244.19,378.80 245.32,378.89 244.46,379.63 244.72,380.73 243.75,380.14 242.78,380.73 243.04,379.63 242.18,378.89 243.31,378.80" fill="#111"/>
<polygon points="247.05,377.75 247.49,378.80 248.62,378.89 247.76,379.63 248.02,380.73 247.05,380.14 246.08,380.73 246.34,379.63 245.48,378.89 246.61,378.80" fill="#111"/>
<line x1="209.9" y1="393.2" x2="242.9" y2="393.2" stroke="#111" stroke-width="1.3"/>
<polygon points="226.65,388.95 227.09,390.00 228.22,390.09 227.36,390.83 227.62,391.93 226.65,391.34 225.68,391.93 225.94,390.83 225.08,390.09 226.21,390.00" fill="#111"/>
<polygon points="229.95,388.95 230.39,390.00 231.52,390.09 230.66,390.83 230.92,391.93 229.95,391.34 228.98,391.93 229.24,390.83 228.38,390.09 229.51,390.00" fill="#111"/>
<line x1="359.3" y1="374.09999999999997" x2="359.3" y2="476.35" stroke="#111" stroke-width="1.6"/>
<line x1="356.0" y1="475.6" x2="510.9" y2="475.6" stroke="#111" stroke-width="1.5"/>
<line x1="356.0" y1="475.6" x2="359.3" y2="475.6" stroke="#111" stroke-width="1.2"/>
<text x="354.7" y="479.1" font-size="9.5" text-anchor="end" fill="#111">0.0</text>
<line x1="356.0" y1="442.05" x2="359.3" y2="442.05" stroke="#111" stroke-width="1.2"/>
<text x="354.7" y="445.55" font-size="9.5" text-anchor="end" fill="#111">0.5</text>
<line x1="356.0" y1="408.5" x2="359.3" y2="408.5" stroke="#111" stroke-width="1.2"/>
<text x="354.7" y="412.0" font-size="9.5" text-anchor="end" fill="#111">1.0</text>
<line x1="356.0" y1="374.95000000000005" x2="359.3" y2="374.95000000000005" stroke="#111" stroke-width="1.2"/>
<text x="354.7" y="378.45" font-size="9.5" text-anchor="end" fill="#111">1.5</text>
<text x="434.5" y="359.6" font-size="10.6" text-anchor="middle" fill="#111">2DG</text>
<text x="0" y="0" font-size="10.2" text-anchor="middle" fill="#222" style="stroke-width:0.1px" textLength="66.4" lengthAdjust="spacingAndGlyphs" transform="translate(339.0,425.7) rotate(-90)">IL-6 (Fold Change)</text>
<line x1="365.2" y1="472.1" x2="384.8" y2="472.1" stroke="#111" stroke-width="1.5"/>
<circle cx="367.2" cy="474.8" r="2.1" fill="#d0061c"/>
<circle cx="371.3" cy="471.2" r="2.1" fill="#d0061c"/>
<circle cx="375" cy="468.6" r="2.1" fill="#d0061c"/>
<circle cx="379" cy="471.2" r="2.1" fill="#d0061c"/>
<circle cx="383.3" cy="475.5" r="2.1" fill="#d0061c"/>
<circle cx="375" cy="473.5" r="2.1" fill="#d0061c"/>
<circle cx="377.3" cy="473.5" r="2.1" fill="#d0061c"/>
<circle cx="397.3" cy="408.5" r="2.2" fill="#0a3cb4"/>
<circle cx="400.52" cy="408.5" r="2.2" fill="#0a3cb4"/>
<circle cx="403.74" cy="408.5" r="2.2" fill="#0a3cb4"/>
<circle cx="406.96" cy="408.5" r="2.2" fill="#0a3cb4"/>
<circle cx="410.18" cy="408.5" r="2.2" fill="#0a3cb4"/>
<circle cx="413.4" cy="408.5" r="2.2" fill="#0a3cb4"/>
<line x1="435.7" y1="390.4" x2="435.7" y2="414.5" stroke="#3ee622" stroke-width="1.4"/>
<line x1="431.0" y1="390.4" x2="440.4" y2="390.4" stroke="#3ee622" stroke-width="1.4"/>
<line x1="431.0" y1="414.5" x2="440.4" y2="414.5" stroke="#3ee622" stroke-width="1.4"/>
<line x1="425.3" y1="402.6" x2="445.9" y2="402.6" stroke="#111" stroke-width="1.5"/>
<circle cx="431.7" cy="391.3" r="2.1" fill="#3ee622"/>
<circle cx="439.9" cy="389.3" r="2.1" fill="#3ee622"/>
<circle cx="431.7" cy="400.6" r="2.1" fill="#3ee622"/>
<circle cx="439.9" cy="399.6" r="2.1" fill="#3ee622"/>
<circle cx="439.9" cy="415.6" r="2.1" fill="#3ee622"/>
<circle cx="431.7" cy="418.9" r="2.1" fill="#3ee622"/>
<line x1="466.1" y1="408.1" x2="466.1" y2="460.3" stroke="#1e0aa8" stroke-width="1.4"/>
<line x1="460.90000000000003" y1="408.1" x2="471.3" y2="408.1" stroke="#1e0aa8" stroke-width="1.4"/>
<line x1="460.90000000000003" y1="460.3" x2="471.3" y2="460.3" stroke="#1e0aa8" stroke-width="1.4"/>
<line x1="455.6" y1="434.4" x2="476" y2="434.4" stroke="#111" stroke-width="1.5"/>
<circle cx="466.1" cy="399.6" r="1.9" fill="#1e0aa8"/>
<circle cx="466.1" cy="404.8" r="1.9" fill="#1e0aa8"/>
<circle cx="466.1" cy="442.1" r="1.9" fill="#1e0aa8"/>
<circle cx="466.1" cy="448" r="1.9" fill="#1e0aa8"/>
<circle cx="466.1" cy="452.1" r="1.9" fill="#1e0aa8"/>
<circle cx="466.1" cy="461.2" r="1.9" fill="#1e0aa8"/>
<line x1="496.5" y1="438.4" x2="496.5" y2="465.3" stroke="#fa7a0a" stroke-width="1.4"/>
<line x1="491.25" y1="438.4" x2="501.75" y2="438.4" stroke="#fa7a0a" stroke-width="1.4"/>
<line x1="491.25" y1="465.3" x2="501.75" y2="465.3" stroke="#fa7a0a" stroke-width="1.4"/>
<line x1="486.1" y1="451.9" x2="506.8" y2="451.9" stroke="#111" stroke-width="1.5"/>
<circle cx="496.5" cy="435.5" r="2.1" fill="#fa7a0a"/>
<circle cx="496.5" cy="442.4" r="2.1" fill="#fa7a0a"/>
<circle cx="496.5" cy="446.9" r="2.1" fill="#fa7a0a"/>
<circle cx="496.5" cy="451.1" r="2.1" fill="#fa7a0a"/>
<circle cx="500.1" cy="467" r="2.1" fill="#fa7a0a"/>
<circle cx="492.2" cy="469.2" r="2.1" fill="#fa7a0a"/>
<text x="375.2" y="489.2" font-size="9.9" text-anchor="middle" textLength="12.3" lengthAdjust="spacingAndGlyphs" fill="#111">UT</text>
<text x="405.4" y="489.2" font-size="9.9" text-anchor="middle" textLength="12.3" lengthAdjust="spacingAndGlyphs" fill="#111">VE</text>
<text x="435.5" y="489.2" font-size="9.9" text-anchor="middle" textLength="12.3" lengthAdjust="spacingAndGlyphs" fill="#111">VE</text>
<text x="466.3" y="489.2" font-size="9.9" text-anchor="middle" textLength="12.3" lengthAdjust="spacingAndGlyphs" fill="#111">VE</text>
<text x="496.5" y="489.2" font-size="9.9" text-anchor="middle" textLength="12.3" lengthAdjust="spacingAndGlyphs" fill="#111">VE</text>
<text x="335.4" y="502.0" font-size="10.0" textLength="34.6" lengthAdjust="spacingAndGlyphs" fill="#2a2a2a" style="stroke-width:0.08px">Inhibitor:</text>
<rect x="374.3" y="499.8" width="1.4" height="0.9" fill="#333"/>
<rect x="404.7" y="499.8" width="1.4" height="0.9" fill="#333"/>
<text x="435.4" y="502.0" font-size="8.9" text-anchor="middle" textLength="19.2" lengthAdjust="spacingAndGlyphs" fill="#111">1mM</text>
<text x="464.8" y="502.0" font-size="8.9" text-anchor="middle" textLength="24.3" lengthAdjust="spacingAndGlyphs" fill="#111">10mM</text>
<text x="495.6" y="502.0" font-size="8.9" text-anchor="middle" textLength="24.2" lengthAdjust="spacingAndGlyphs" fill="#111">50mM</text>
<line x1="405.4" y1="377.5" x2="494" y2="377.5" stroke="#111" stroke-width="1.3"/>
<polygon points="447.00,371.95 447.44,373.00 448.57,373.09 447.71,373.83 447.97,374.93 447.00,374.34 446.03,374.93 446.29,373.83 445.43,373.09 446.56,373.00" fill="#111"/>
<polygon points="450.30,371.95 450.74,373.00 451.87,373.09 451.01,373.83 451.27,374.93 450.30,374.34 449.33,374.93 449.59,373.83 448.73,373.09 449.86,373.00" fill="#111"/>
<polygon points="453.60,371.95 454.04,373.00 455.17,373.09 454.31,373.83 454.57,374.93 453.60,374.34 452.63,374.93 452.89,373.83 452.03,373.09 453.16,373.00" fill="#111"/>
<line x1="164.5" y1="538.9" x2="164.5" y2="640.95" stroke="#111" stroke-width="1.6"/>
<line x1="161.2" y1="640.2" x2="315.4" y2="640.2" stroke="#111" stroke-width="1.5"/>
<line x1="161.2" y1="640.2" x2="164.5" y2="640.2" stroke="#111" stroke-width="1.2"/>
<text x="159.2" y="643.7" font-size="9.5" text-anchor="end" fill="#111">0.0</text>
<line x1="161.2" y1="615.0250000000001" x2="164.5" y2="615.0250000000001" stroke="#111" stroke-width="1.2"/>
<text x="159.2" y="618.53" font-size="9.5" text-anchor="end" fill="#111">0.5</text>
<line x1="161.2" y1="589.85" x2="164.5" y2="589.85" stroke="#111" stroke-width="1.2"/>
<text x="159.2" y="593.35" font-size="9.5" text-anchor="end" fill="#111">1.0</text>
<line x1="161.2" y1="564.6750000000001" x2="164.5" y2="564.6750000000001" stroke="#111" stroke-width="1.2"/>
<text x="159.2" y="568.18" font-size="9.5" text-anchor="end" fill="#111">1.5</text>
<line x1="161.2" y1="539.5" x2="164.5" y2="539.5" stroke="#111" stroke-width="1.2"/>
<text x="159.2" y="543.0" font-size="9.5" text-anchor="end" fill="#111">2.0</text>
<text x="242.1" y="525.6" font-size="10.3" text-anchor="middle" fill="#111">Rapamycin</text>
<text x="0" y="0" font-size="10.2" text-anchor="middle" fill="#222" style="stroke-width:0.1px" textLength="67.6" lengthAdjust="spacingAndGlyphs" transform="translate(141.9,592.4) rotate(-90)">IL-6 (Fold Change)</text>
<line x1="170" y1="640.0" x2="189" y2="640.0" stroke="#111" stroke-width="1.5"/>
<circle cx="171.5" cy="641" r="1.9" fill="#d0061c"/>
<circle cx="175" cy="641" r="1.9" fill="#d0061c"/>
<circle cx="178.5" cy="641.2" r="1.9" fill="#d0061c"/>
<circle cx="182" cy="641" r="1.9" fill="#d0061c"/>
<circle cx="185.5" cy="641.2" r="1.9" fill="#d0061c"/>
<circle cx="188.3" cy="640.8" r="1.9" fill="#d0061c"/>
<circle cx="201.4" cy="589.85" r="2.2" fill="#0a3cb4"/>
<circle cx="204.68" cy="589.85" r="2.2" fill="#0a3cb4"/>
<circle cx="207.96" cy="589.85" r="2.2" fill="#0a3cb4"/>
<circle cx="211.24" cy="589.85" r="2.2" fill="#0a3cb4"/>
<circle cx="214.52" cy="589.85" r="2.2" fill="#0a3cb4"/>
<circle cx="217.8" cy="589.85" r="2.2" fill="#0a3cb4"/>
<line x1="240" y1="565.5" x2="240" y2="594.8" stroke="#3ee622" stroke-width="1.4"/>
<line x1="234.5" y1="565.5" x2="245.5" y2="565.5" stroke="#3ee622" stroke-width="1.4"/>
<line x1="234.5" y1="594.8" x2="245.5" y2="594.8" stroke="#3ee622" stroke-width="1.4"/>
<line x1="229.4" y1="580.2" x2="250.2" y2="580.2" stroke="#111" stroke-width="1.5"/>
<circle cx="239.8" cy="554.2" r="2.1" fill="#3ee622"/>
<circle cx="240.1" cy="571.8" r="2.1" fill="#3ee622"/>
<circle cx="235.6" cy="585.6" r="2.1" fill="#3ee622"/>
<circle cx="244" cy="584" r="2.1" fill="#3ee622"/>
<circle cx="244" cy="591.4" r="2.1" fill="#3ee622"/>
<circle cx="235.6" cy="594.6" r="2.1" fill="#3ee622"/>
<line x1="270.2" y1="582.2" x2="270.2" y2="592.9" stroke="#1e0aa8" stroke-width="1.4"/>
<line x1="264.7" y1="582.2" x2="275.7" y2="582.2" stroke="#1e0aa8" stroke-width="1.4"/>
<line x1="264.7" y1="592.9" x2="275.7" y2="592.9" stroke="#1e0aa8" stroke-width="1.4"/>
<line x1="259.8" y1="587.7" x2="280.2" y2="587.7" stroke="#111" stroke-width="1.5"/>
<circle cx="261.7" cy="582.8" r="2.1" fill="#1e0aa8"/>
<circle cx="270.2" cy="582.5" r="2.1" fill="#1e0aa8"/>
<circle cx="278.3" cy="582.8" r="2.1" fill="#1e0aa8"/>
<circle cx="270.2" cy="591.2" r="2.1" fill="#1e0aa8"/>
<circle cx="278.3" cy="592.1" r="2.1" fill="#1e0aa8"/>
<circle cx="261.7" cy="595.2" r="2.1" fill="#1e0aa8"/>
<line x1="300.5" y1="568.4" x2="300.5" y2="589.6" stroke="#fa7a0a" stroke-width="1.4"/>
<line x1="295.45" y1="568.4" x2="305.55" y2="568.4" stroke="#fa7a0a" stroke-width="1.4"/>
<line x1="295.45" y1="589.6" x2="305.55" y2="589.6" stroke="#fa7a0a" stroke-width="1.4"/>
<line x1="289.7" y1="579.7" x2="310" y2="579.7" stroke="#111" stroke-width="1.5"/>
<circle cx="296.1" cy="570" r="2.1" fill="#fa7a0a"/>
<circle cx="304.5" cy="570" r="2.1" fill="#fa7a0a"/>
<circle cx="300.5" cy="576.4" r="2.1" fill="#fa7a0a"/>
<circle cx="296.4" cy="580.5" r="2.1" fill="#fa7a0a"/>
<circle cx="304.5" cy="583.7" r="2.1" fill="#fa7a0a"/>
<circle cx="300.5" cy="597.8" r="2.1" fill="#fa7a0a"/>
<text x="180" y="653.8" font-size="9.9" text-anchor="middle" textLength="12.3" lengthAdjust="spacingAndGlyphs" fill="#111">UT</text>
<text x="209.3" y="653.8" font-size="9.9" text-anchor="middle" textLength="12.3" lengthAdjust="spacingAndGlyphs" fill="#111">VE</text>
<text x="240" y="653.8" font-size="9.9" text-anchor="middle" textLength="12.3" lengthAdjust="spacingAndGlyphs" fill="#111">VE</text>
<text x="270.8" y="653.8" font-size="9.9" text-anchor="middle" textLength="12.3" lengthAdjust="spacingAndGlyphs" fill="#111">VE</text>
<text x="301" y="653.8" font-size="9.9" text-anchor="middle" textLength="12.3" lengthAdjust="spacingAndGlyphs" fill="#111">VE</text>
<text x="137.7" y="667.4" font-size="10.0" textLength="34.6" lengthAdjust="spacingAndGlyphs" fill="#2a2a2a" style="stroke-width:0.08px">Inhibitor:</text>
<rect x="179.3" y="665.1999999999999" width="1.4" height="0.9" fill="#333"/>
<rect x="208.9" y="665.1999999999999" width="1.4" height="0.9" fill="#333"/>
<text x="240.5" y="667.4" font-size="8.9" text-anchor="middle" textLength="21" lengthAdjust="spacingAndGlyphs" fill="#111">10nM</text>
<text x="270.9" y="667.4" font-size="8.9" text-anchor="middle" textLength="25.8" lengthAdjust="spacingAndGlyphs" fill="#111">100nM</text>
<text x="300.8" y="667.4" font-size="8.9" text-anchor="middle" textLength="26.1" lengthAdjust="spacingAndGlyphs" fill="#111">250nM</text>
<line x1="361.7" y1="540.6" x2="361.7" y2="641.95" stroke="#111" stroke-width="1.6"/>
<line x1="358.4" y1="641.2" x2="512.3" y2="641.2" stroke="#111" stroke-width="1.5"/>
<line x1="358.4" y1="641.2" x2="361.7" y2="641.2" stroke="#111" stroke-width="1.2"/>
<text x="356.4" y="644.7" font-size="9.5" text-anchor="end" fill="#111">0.0</text>
<line x1="358.4" y1="608.0" x2="361.7" y2="608.0" stroke="#111" stroke-width="1.2"/>
<text x="356.4" y="611.5" font-size="9.5" text-anchor="end" fill="#111">0.5</text>
<line x1="358.4" y1="574.8000000000001" x2="361.7" y2="574.8000000000001" stroke="#111" stroke-width="1.2"/>
<text x="356.4" y="578.3" font-size="9.5" text-anchor="end" fill="#111">1.0</text>
<line x1="358.4" y1="541.6" x2="361.7" y2="541.6" stroke="#111" stroke-width="1.2"/>
<text x="356.4" y="545.1" font-size="9.5" text-anchor="end" fill="#111">1.5</text>
<text x="436.7" y="526.7" font-size="10.3" text-anchor="middle" textLength="29.6" lengthAdjust="spacingAndGlyphs" fill="#111">BPTES</text>
<text x="0" y="0" font-size="10.2" text-anchor="middle" fill="#222" style="stroke-width:0.1px" textLength="71.0" lengthAdjust="spacingAndGlyphs" transform="translate(339.4,595.0) rotate(-90)">IL-6 (Fold Change)</text>
<line x1="370" y1="640.6" x2="391" y2="640.6" stroke="#111" stroke-width="1.5"/>
<circle cx="369.4" cy="641.4" r="2.1" fill="#d0061c"/>
<circle cx="373.7" cy="639.3" r="2.1" fill="#d0061c"/>
<circle cx="378" cy="641.7" r="2.1" fill="#d0061c"/>
<circle cx="382.4" cy="639.3" r="2.1" fill="#d0061c"/>
<circle cx="386.4" cy="641.4" r="2.1" fill="#d0061c"/>
<circle cx="390.7" cy="640.7" r="2.1" fill="#d0061c"/>
<circle cx="407.9" cy="574.8000000000001" r="2.2" fill="#0a3cb4"/>
<circle cx="412.06" cy="574.8000000000001" r="2.2" fill="#0a3cb4"/>
<circle cx="416.22" cy="574.8000000000001" r="2.2" fill="#0a3cb4"/>
<circle cx="420.38" cy="574.8000000000001" r="2.2" fill="#0a3cb4"/>
<circle cx="424.54" cy="574.8000000000001" r="2.2" fill="#0a3cb4"/>
<circle cx="428.7" cy="574.8000000000001" r="2.2" fill="#0a3cb4"/>
<line x1="455.9" y1="570.1" x2="455.9" y2="593.4" stroke="#3ee622" stroke-width="1.4"/>
<line x1="451.4" y1="570.1" x2="460.4" y2="570.1" stroke="#3ee622" stroke-width="1.4"/>
<line x1="451.4" y1="593.4" x2="460.4" y2="593.4" stroke="#3ee622" stroke-width="1.4"/>
<line x1="443" y1="581.3" x2="468.3" y2="581.3" stroke="#111" stroke-width="1.5"/>
<circle cx="451.8" cy="570.1" r="2.1" fill="#3ee622"/>
<circle cx="460.2" cy="569.7" r="2.1" fill="#3ee622"/>
<circle cx="455.9" cy="577.8" r="2.1" fill="#3ee622"/>
<circle cx="451.8" cy="584.2" r="2.1" fill="#3ee622"/>
<circle cx="460.2" cy="587.2" r="2.1" fill="#3ee622"/>
<circle cx="455.9" cy="600.6" r="2.1" fill="#3ee622"/>
<line x1="493.6" y1="585.3" x2="493.6" y2="596.6" stroke="#1e0aa8" stroke-width="1.4"/>
<line x1="488.40000000000003" y1="585.3" x2="498.8" y2="585.3" stroke="#1e0aa8" stroke-width="1.4"/>
<line x1="488.40000000000003" y1="596.6" x2="498.8" y2="596.6" stroke="#1e0aa8" stroke-width="1.4"/>
<line x1="481" y1="591.2" x2="506.6" y2="591.2" stroke="#111" stroke-width="1.5"/>
<circle cx="483.1" cy="589.2" r="2.1" fill="#1e0aa8"/>
<circle cx="493.6" cy="586.2" r="2.1" fill="#1e0aa8"/>
<circle cx="499.2" cy="588.5" r="2.1" fill="#1e0aa8"/>
<circle cx="504.6" cy="589.6" r="2.1" fill="#1e0aa8"/>
<circle cx="493.6" cy="590.7" r="2.1" fill="#1e0aa8"/>
<circle cx="493.6" cy="602.4" r="2.1" fill="#1e0aa8"/>
<text x="381.3" y="654.7" font-size="9.9" text-anchor="middle" textLength="12.3" lengthAdjust="spacingAndGlyphs" fill="#111">UT</text>
<text x="416.4" y="654.7" font-size="9.9" text-anchor="middle" textLength="12.3" lengthAdjust="spacingAndGlyphs" fill="#111">VE</text>
<text x="456.3" y="654.7" font-size="9.9" text-anchor="middle" textLength="12.3" lengthAdjust="spacingAndGlyphs" fill="#111">VE</text>
<text x="493.7" y="654.7" font-size="9.9" text-anchor="middle" textLength="12.3" lengthAdjust="spacingAndGlyphs" fill="#111">VE</text>
<text x="335.4" y="666.9" font-size="10.0" textLength="34.6" lengthAdjust="spacingAndGlyphs" fill="#2a2a2a" style="stroke-width:0.08px">Inhibitor:</text>
<rect x="380.8" y="664.6999999999999" width="1.4" height="0.9" fill="#333"/>
<rect x="418.5" y="664.6999999999999" width="1.4" height="0.9" fill="#333"/>
<text x="455.6" y="666.9" font-size="8.9" text-anchor="middle" textLength="26.5" lengthAdjust="spacingAndGlyphs" fill="#111">0.3 &#956;M</text>
<text x="493.5" y="666.9" font-size="8.9" text-anchor="middle" textLength="19.2" lengthAdjust="spacingAndGlyphs" fill="#111">3 &#956;M</text>
<line x1="414.1" y1="558.5" x2="490" y2="558.5" stroke="#111" stroke-width="1.3"/>
<polygon points="449.60,552.95 450.04,554.00 451.17,554.09 450.31,554.83 450.57,555.93 449.60,555.34 448.63,555.93 448.89,554.83 448.03,554.09 449.16,554.00" fill="#111"/>
<polygon points="452.90,552.95 453.34,554.00 454.47,554.09 453.61,554.83 453.87,555.93 452.90,555.34 451.93,555.93 452.19,554.83 451.33,554.09 452.46,554.00" fill="#111"/>
<polygon points="456.20,552.95 456.64,554.00 457.77,554.09 456.91,554.83 457.17,555.93 456.20,555.34 455.23,555.93 455.49,554.83 454.63,554.09 455.76,554.00" fill="#111"/>
<rect x="0" y="0" width="520" height="1.2" fill="#000"/>
<rect x="0" y="0" width="1.3" height="678" fill="#000"/>
<rect x="518.6" y="0" width="1.4" height="678" fill="#000"/>
<rect x="0" y="676.1" width="520" height="1.9" fill="#000"/>
</svg></body></html>
